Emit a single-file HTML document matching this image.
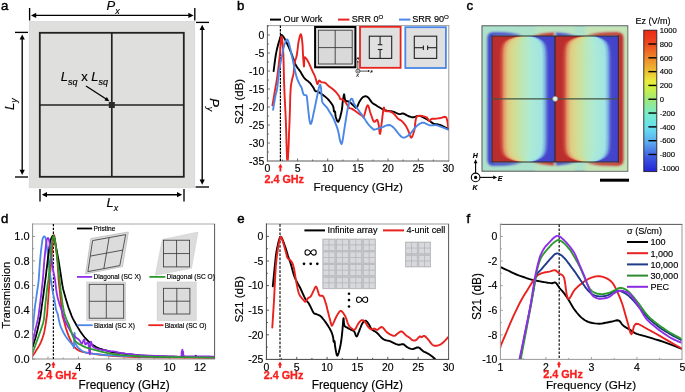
<!DOCTYPE html>
<html><head><meta charset="utf-8"><style>
html,body{margin:0;padding:0;background:#fff;}
svg{display:block;font-family:"Liberation Sans", sans-serif;opacity:0.999;}
</style></head><body>
<svg width="685" height="392" viewBox="0 0 685 392">
<rect width="685" height="392" fill="#fff"/>
<text x="1.0" y="9.8" font-size="13.2" text-anchor="start" font-weight="normal" font-style="normal" fill="#000" stroke="#000" stroke-width="0.45">a</text>
<rect x="29.2" y="21.6" width="165.6" height="166.2" fill="#dfdfde" stroke="#d0d0d0" stroke-width="0.6"/>
<rect x="39.8" y="32.8" width="144" height="144" fill="none" stroke="#222" stroke-width="1.8"/>
<line x1="111.8" y1="32.8" x2="111.8" y2="176.8" stroke="#222" stroke-width="1.7" />
<line x1="39.8" y1="105" x2="183.8" y2="105" stroke="#222" stroke-width="1.7" />
<rect x="108.8" y="102" width="6" height="6" fill="#2b2b2b"/>
<line x1="29.6" y1="8" x2="29.6" y2="20.5" stroke="#000" stroke-width="1.35" />
<line x1="194.8" y1="8" x2="194.8" y2="20.5" stroke="#000" stroke-width="1.35" />
<line x1="33" y1="15.4" x2="191" y2="15.4" stroke="#000" stroke-width="1.35" />
<polygon points="31.00,15.40 36.20,12.80 36.20,18.00" fill="#000"/>
<polygon points="193.60,15.40 188.40,18.00 188.40,12.80" fill="#000"/>
<line x1="196" y1="22.4" x2="209" y2="22.4" stroke="#000" stroke-width="1.35" />
<line x1="195.6" y1="187" x2="209" y2="187" stroke="#000" stroke-width="1.35" />
<line x1="202.2" y1="28" x2="202.2" y2="182" stroke="#000" stroke-width="1.35" />
<polygon points="202.20,24.80 204.80,30.00 199.60,30.00" fill="#000"/>
<polygon points="202.20,184.80 199.60,179.60 204.80,179.60" fill="#000"/>
<line x1="15" y1="32.4" x2="28" y2="32.4" stroke="#000" stroke-width="1.35" />
<line x1="15" y1="177" x2="28" y2="177" stroke="#000" stroke-width="1.35" />
<line x1="22.2" y1="38" x2="22.2" y2="171" stroke="#000" stroke-width="1.35" />
<polygon points="22.20,34.40 24.80,39.60 19.60,39.60" fill="#000"/>
<polygon points="22.20,175.00 19.60,169.80 24.80,169.80" fill="#000"/>
<line x1="40" y1="189" x2="40" y2="201.6" stroke="#000" stroke-width="1.35" />
<line x1="184" y1="189" x2="184" y2="201.6" stroke="#000" stroke-width="1.35" />
<line x1="44" y1="194.7" x2="180" y2="194.7" stroke="#000" stroke-width="1.35" />
<polygon points="41.80,194.70 47.00,192.10 47.00,197.30" fill="#000"/>
<polygon points="182.20,194.70 177.00,197.30 177.00,192.10" fill="#000"/>
<text stroke="#000" stroke-width="0.15" x="106.6" y="10" font-size="13" font-style="italic">P<tspan font-size="9" dy="3.5">x</tspan></text>
<text stroke="#000" stroke-width="0.15" x="106.6" y="207.4" font-size="13" font-style="italic">L<tspan font-size="9" dy="3.5">x</tspan></text>
<text stroke="#000" stroke-width="0.15" transform="translate(13.6,110) rotate(-90)" font-size="13" font-style="italic">L<tspan font-size="9" dy="3.5">y</tspan></text>
<text stroke="#000" stroke-width="0.15" transform="translate(210.4,98.2) rotate(90)" font-size="13" font-style="italic">P<tspan font-size="9" dy="3.5">y</tspan></text>
<text stroke="#000" stroke-width="0.15" x="60.8" y="81" font-size="13" font-style="italic">L<tspan font-size="9" dy="3.5">sq</tspan><tspan font-style="normal" font-size="13" dy="-3.5"> x </tspan>L<tspan font-size="9" dy="3.5">sq</tspan></text>
<line x1="86" y1="86" x2="106.5" y2="99.3" stroke="#000" stroke-width="1.3" />
<polygon points="109.40,101.20 104.43,100.59 106.82,96.90" fill="#000"/>
<text x="237.0" y="10" font-size="13.2" text-anchor="start" font-weight="normal" font-style="normal" fill="#000" stroke="#000" stroke-width="0.45">b</text>
<line x1="266.9" y1="25.6" x2="449.3" y2="25.6" stroke="#a0a0a0" stroke-width="1" />
<line x1="448.8" y1="25.6" x2="448.8" y2="161" stroke="#999" stroke-width="1" />
<line x1="267.4" y1="25.1" x2="267.4" y2="161.5" stroke="#5a5a5a" stroke-width="1" />
<line x1="266.9" y1="161" x2="449.3" y2="161" stroke="#5a5a5a" stroke-width="1" />
<line x1="297.565" y1="161" x2="297.565" y2="158.5" stroke="#5a5a5a" stroke-width="0.9" />
<line x1="327.72999999999996" y1="161" x2="327.72999999999996" y2="158.5" stroke="#5a5a5a" stroke-width="0.9" />
<line x1="357.895" y1="161" x2="357.895" y2="158.5" stroke="#5a5a5a" stroke-width="0.9" />
<line x1="388.06" y1="161" x2="388.06" y2="158.5" stroke="#5a5a5a" stroke-width="0.9" />
<line x1="418.225" y1="161" x2="418.225" y2="158.5" stroke="#5a5a5a" stroke-width="0.9" />
<line x1="282.48249999999996" y1="161" x2="282.48249999999996" y2="159.5" stroke="#5a5a5a" stroke-width="0.9" />
<line x1="312.6475" y1="161" x2="312.6475" y2="159.5" stroke="#5a5a5a" stroke-width="0.9" />
<line x1="342.8125" y1="161" x2="342.8125" y2="159.5" stroke="#5a5a5a" stroke-width="0.9" />
<line x1="372.97749999999996" y1="161" x2="372.97749999999996" y2="159.5" stroke="#5a5a5a" stroke-width="0.9" />
<line x1="403.1425" y1="161" x2="403.1425" y2="159.5" stroke="#5a5a5a" stroke-width="0.9" />
<line x1="433.3075" y1="161" x2="433.3075" y2="159.5" stroke="#5a5a5a" stroke-width="0.9" />
<line x1="267.4" y1="35.0" x2="269.9" y2="35.0" stroke="#5a5a5a" stroke-width="0.9" />
<line x1="267.4" y1="53.0" x2="269.9" y2="53.0" stroke="#5a5a5a" stroke-width="0.9" />
<line x1="267.4" y1="71.0" x2="269.9" y2="71.0" stroke="#5a5a5a" stroke-width="0.9" />
<line x1="267.4" y1="89.0" x2="269.9" y2="89.0" stroke="#5a5a5a" stroke-width="0.9" />
<line x1="267.4" y1="107.0" x2="269.9" y2="107.0" stroke="#5a5a5a" stroke-width="0.9" />
<line x1="267.4" y1="125.0" x2="269.9" y2="125.0" stroke="#5a5a5a" stroke-width="0.9" />
<line x1="267.4" y1="143.0" x2="269.9" y2="143.0" stroke="#5a5a5a" stroke-width="0.9" />
<line x1="267.4" y1="44.0" x2="268.9" y2="44.0" stroke="#5a5a5a" stroke-width="0.9" />
<line x1="267.4" y1="62.0" x2="268.9" y2="62.0" stroke="#5a5a5a" stroke-width="0.9" />
<line x1="267.4" y1="80.0" x2="268.9" y2="80.0" stroke="#5a5a5a" stroke-width="0.9" />
<line x1="267.4" y1="98.0" x2="268.9" y2="98.0" stroke="#5a5a5a" stroke-width="0.9" />
<line x1="267.4" y1="116.0" x2="268.9" y2="116.0" stroke="#5a5a5a" stroke-width="0.9" />
<line x1="267.4" y1="134.0" x2="268.9" y2="134.0" stroke="#5a5a5a" stroke-width="0.9" />
<line x1="267.4" y1="152.0" x2="268.9" y2="152.0" stroke="#5a5a5a" stroke-width="0.9" />
<line x1="267.4" y1="26.0" x2="268.9" y2="26.0" stroke="#5a5a5a" stroke-width="0.9" />
<text x="267.4" y="172" font-size="10.5" text-anchor="middle" font-weight="normal" font-style="normal" fill="#000" stroke="#000" stroke-width="0.15" >0</text>
<text x="297.565" y="172" font-size="10.5" text-anchor="middle" font-weight="normal" font-style="normal" fill="#000" stroke="#000" stroke-width="0.15" >5</text>
<text x="327.72999999999996" y="172" font-size="10.5" text-anchor="middle" font-weight="normal" font-style="normal" fill="#000" stroke="#000" stroke-width="0.15" >10</text>
<text x="357.895" y="172" font-size="10.5" text-anchor="middle" font-weight="normal" font-style="normal" fill="#000" stroke="#000" stroke-width="0.15" >15</text>
<text x="388.06" y="172" font-size="10.5" text-anchor="middle" font-weight="normal" font-style="normal" fill="#000" stroke="#000" stroke-width="0.15" >20</text>
<text x="418.225" y="172" font-size="10.5" text-anchor="middle" font-weight="normal" font-style="normal" fill="#000" stroke="#000" stroke-width="0.15" >25</text>
<text x="448.39" y="172" font-size="10.5" text-anchor="middle" font-weight="normal" font-style="normal" fill="#000" stroke="#000" stroke-width="0.15" >30</text>
<text x="264.3" y="38.8" font-size="10.5" text-anchor="end" font-weight="normal" font-style="normal" fill="#000" stroke="#000" stroke-width="0.15" >0</text>
<text x="264.3" y="56.8" font-size="10.5" text-anchor="end" font-weight="normal" font-style="normal" fill="#000" stroke="#000" stroke-width="0.15" >-5</text>
<text x="264.3" y="74.8" font-size="10.5" text-anchor="end" font-weight="normal" font-style="normal" fill="#000" stroke="#000" stroke-width="0.15" >-10</text>
<text x="264.3" y="92.8" font-size="10.5" text-anchor="end" font-weight="normal" font-style="normal" fill="#000" stroke="#000" stroke-width="0.15" >-15</text>
<text x="264.3" y="110.8" font-size="10.5" text-anchor="end" font-weight="normal" font-style="normal" fill="#000" stroke="#000" stroke-width="0.15" >-20</text>
<text x="264.3" y="128.8" font-size="10.5" text-anchor="end" font-weight="normal" font-style="normal" fill="#000" stroke="#000" stroke-width="0.15" >-25</text>
<text x="264.3" y="146.8" font-size="10.5" text-anchor="end" font-weight="normal" font-style="normal" fill="#000" stroke="#000" stroke-width="0.15" >-30</text>
<text x="264.3" y="164.8" font-size="10.5" text-anchor="end" font-weight="normal" font-style="normal" fill="#000" stroke="#000" stroke-width="0.15" >-35</text>
<text x="358.2" y="190.6" font-size="11.7" text-anchor="middle" font-weight="normal" font-style="normal" fill="#000" stroke="#000" stroke-width="0.15" >Frequency (GHz)</text>
<text stroke="#000" stroke-width="0.15" transform="translate(243.2,101.5) rotate(-90)" font-size="11.5" text-anchor="middle">S21 (dB)</text>
<line x1="280.4" y1="25.6" x2="280.4" y2="161" stroke="#000" stroke-width="1.2" stroke-dasharray="2.3,1.2"/>
<line x1="280.4" y1="166.5" x2="280.4" y2="171.5" stroke="#fa1e1e" stroke-width="1.8" />
<polygon points="280.40,163.80 282.60,167.40 278.20,167.40" fill="#fa1e1e"/>
<text x="284.2" y="183.2" font-size="10.8" text-anchor="middle" font-weight="bold" font-style="normal" fill="#fa1e1e" stroke="#fa1e1e" stroke-width="0.3">2.4 GHz</text>
<line x1="270" y1="19.6" x2="281" y2="19.6" stroke="#000" stroke-width="2" />
<text x="283.6" y="22.1" font-size="9.1" text-anchor="start" font-weight="normal" font-style="normal" fill="#000" stroke="#000" stroke-width="0.15" >Our Work</text>
<line x1="338" y1="19.6" x2="349.4" y2="19.6" stroke="#e8231f" stroke-width="2" />
<text x="351.8" y="22.1" font-size="9.1" text-anchor="start" font-weight="normal" font-style="normal" fill="#000" stroke="#000" stroke-width="0.15" >SRR 0<tspan font-size="6.2" dy="-3.2">O</tspan></text>
<line x1="399" y1="19.6" x2="410.4" y2="19.6" stroke="#4a86e8" stroke-width="2" />
<text x="412.2" y="22.1" font-size="9.1" text-anchor="start" font-weight="normal" font-style="normal" fill="#000" stroke="#000" stroke-width="0.15" >SRR 90<tspan font-size="6.2" dy="-3.2">O</tspan></text>
<clipPath id="cb"><rect x="267.9" y="26" width="180.6" height="134.6"/></clipPath>
<g clip-path="url(#cb)">
<polyline points="273.6,71.1 274.0,68.0 274.6,63.5 275.2,58.8 275.8,55.0 276.3,52.4 276.7,50.4 277.1,48.7 277.5,47.0 278.0,45.1 278.5,43.3 279.0,41.6 279.5,40.0 279.9,38.5 280.4,37.1 280.8,36.0 281.2,35.2 281.6,35.0 282.0,35.1 282.4,35.5 282.8,36.0 283.2,36.5 283.7,37.1 284.2,38.0 284.8,39.0 285.5,40.4 286.3,42.0 287.2,43.8 288.0,45.5 288.8,47.2 289.5,49.0 290.3,50.8 291.0,52.5 291.7,54.2 292.3,55.8 292.9,57.5 293.5,59.0 294.0,60.5 294.5,61.9 295.0,63.3 295.5,64.5 296.1,65.6 296.8,66.7 297.4,67.6 298.0,68.5 298.5,69.1 298.9,69.6 299.3,70.2 300.0,71.1 300.9,72.6 302.0,74.5 303.2,76.5 304.4,78.2 305.7,79.5 307.1,80.6 308.5,81.6 309.7,82.7 310.8,83.9 311.7,85.2 312.6,86.4 313.3,87.5 313.9,88.5 314.3,89.5 314.7,90.4 315.2,91.0 315.8,91.3 316.4,91.4 317.1,91.4 317.9,91.7 318.9,92.2 319.9,92.9 321.1,93.6 322.3,94.5 323.6,95.4 324.9,96.4 326.3,97.6 327.7,98.9 329.1,100.5 330.6,102.4 332.0,104.3 333.0,106.0 333.5,107.6 333.7,109.1 333.8,110.5 333.9,111.4 334.2,111.7 334.5,111.5 334.8,111.3 335.1,111.6 335.2,112.5 335.3,113.8 335.4,115.3 335.7,116.7 336.2,118.3 336.8,120.2 337.6,121.6 338.3,121.8 339.1,120.3 340.0,117.7 340.8,114.5 341.5,111.6 342.0,109.0 342.3,106.3 342.5,103.7 342.8,101.4 343.1,99.1 343.5,96.8 343.8,95.1 344.1,94.3 344.3,95.0 344.5,96.8 344.8,98.9 345.3,100.4 346.1,101.0 347.2,101.3 348.3,101.5 349.4,101.9 350.5,102.7 351.5,103.7 352.6,104.7 353.5,105.5 354.3,106.3 355.1,107.2 355.8,107.7 356.5,107.6 357.3,106.6 358.0,104.9 358.8,103.0 359.6,101.4 360.4,100.2 361.2,99.0 361.9,98.1 362.7,97.3 363.5,96.8 364.2,96.5 365.0,96.3 365.7,96.3 366.3,96.4 366.9,96.6 367.6,97.0 368.3,97.6 369.2,98.7 370.2,100.1 371.2,101.6 372.1,102.7 372.8,103.4 373.5,103.8 374.1,104.1 375.0,104.6 376.1,105.3 377.4,106.2 378.8,107.0 380.1,107.8 381.3,108.5 382.5,109.2 383.7,109.8 385.2,110.3 387.0,110.7 389.0,111.0 391.0,111.2 392.9,111.6 394.6,112.2 396.3,113.0 397.8,113.7 399.2,114.1 400.3,114.1 401.2,113.8 402.1,113.5 403.1,113.5 404.3,113.9 405.6,114.6 406.9,115.4 408.2,116.0 409.5,116.5 410.8,116.9 412.1,117.2 413.3,117.3 414.5,117.1 415.6,116.7 416.7,116.2 417.7,115.9 418.6,115.9 419.5,115.9 420.3,116.1 421.2,116.4 422.2,116.8 423.2,117.4 424.3,117.9 425.3,118.5 426.2,119.0 427.1,119.4 427.9,119.9 428.9,120.5 430.0,121.2 431.1,122.1 432.3,122.9 433.5,123.6 434.7,124.0 436.0,124.2 437.3,124.3 438.6,124.6 439.9,125.0 441.2,125.5 442.4,126.0 443.7,126.6 445.1,127.3 446.6,128.0 447.9,128.7 448.8,129.2" fill="none" stroke="#000" stroke-width="1.9" stroke-linejoin="round" stroke-linecap="round" />
<polyline points="272.4,105.4 273.0,102.2 273.8,97.5 274.6,92.4 275.4,88.0 276.0,84.6 276.5,81.7 277.0,78.6 277.5,75.0 278.1,70.3 278.7,65.0 279.3,59.7 279.8,55.0 280.2,51.1 280.4,47.6 280.6,44.6 280.8,42.0 281.0,39.9 281.1,38.2 281.2,37.1 281.4,36.5 281.6,36.5 281.8,37.0 282.0,38.1 282.2,40.0 282.5,42.5 282.8,45.7 283.1,49.7 283.4,55.0 283.6,62.0 283.8,70.4 284.0,79.4 284.3,88.0 284.6,95.8 285.0,103.4 285.4,111.2 285.8,120.0 286.2,132.0 286.6,146.2 287.0,158.0 287.5,163.0 288.0,158.0 288.6,146.1 289.1,131.9 289.6,120.0 289.9,111.1 290.1,102.9 290.3,95.8 290.6,90.0 290.9,86.0 291.3,83.6 291.6,81.8 292.0,80.0 292.4,78.1 292.9,76.4 293.3,74.8 293.7,72.9 294.0,70.6 294.1,68.0 294.3,65.4 294.6,63.0 295.1,61.0 295.6,59.2 296.3,57.3 296.8,55.0 297.3,52.0 297.7,48.5 298.1,45.0 298.5,42.0 299.0,39.6 299.5,37.5 300.0,35.8 300.4,34.7 300.7,34.2 301.0,34.3 301.2,34.9 301.5,36.0 301.8,37.9 302.1,40.5 302.4,43.3 302.6,45.9 302.7,48.2 302.8,50.3 302.9,52.6 303.0,55.0 303.2,58.2 303.5,61.9 303.8,65.0 304.0,66.5 304.1,65.5 304.2,62.8 304.2,59.7 304.4,57.7 304.7,57.2 305.2,57.4 305.7,58.0 306.2,58.6 306.7,59.3 307.3,60.2 307.9,61.2 308.5,62.3 309.0,63.3 309.5,64.4 310.0,65.6 310.7,67.2 311.7,69.4 312.9,72.0 314.2,74.6 315.2,77.0 315.9,79.2 316.5,81.4 316.9,83.1 317.4,84.1 317.9,83.8 318.3,82.6 318.7,81.3 319.2,80.5 319.7,80.6 320.2,81.1 320.7,81.8 321.4,82.3 322.2,82.4 323.1,82.4 324.0,82.5 325.0,82.8 326.2,83.6 327.4,84.8 328.6,86.0 329.5,86.8 329.8,87.0 329.7,86.9 329.6,86.8 330.0,87.1 331.0,87.8 332.3,88.8 333.8,90.0 335.1,91.2 336.3,92.5 337.4,93.8 338.4,95.2 339.2,96.3 339.6,97.2 339.8,97.9 339.9,98.4 340.2,98.9 340.8,99.2 341.6,99.3 342.5,99.5 343.3,99.9 344.1,100.6 344.8,101.5 345.6,102.5 346.3,103.5 347.0,104.6 347.6,105.7 348.2,106.7 348.9,107.6 349.7,108.1 350.5,108.4 351.4,108.6 352.4,109.1 353.6,109.9 354.9,110.8 356.3,111.8 357.6,112.7 359.0,113.7 360.4,114.6 361.7,115.5 362.7,116.2 363.2,116.8 363.3,117.4 363.4,117.5 363.8,116.7 364.6,114.2 365.6,110.4 366.6,106.9 367.6,105.2 368.4,106.0 369.2,108.5 370.0,111.5 370.8,114.1 371.6,116.3 372.4,118.6 373.2,120.6 374.0,121.8 374.7,121.9 375.4,121.3 376.1,120.4 376.6,119.9 377.0,119.8 377.2,119.8 377.4,120.0 377.6,120.5 377.9,121.4 378.2,122.6 378.5,124.0 378.8,125.6 379.1,128.0 379.4,130.9 379.7,133.3 380.1,133.9 380.5,132.1 381.0,128.5 381.5,124.3 382.0,120.5 382.4,116.9 382.9,113.1 383.3,109.8 383.7,107.8 384.0,107.5 384.2,108.6 384.6,110.0 385.2,111.0 386.3,111.3 387.6,111.3 389.0,111.4 390.3,111.6 391.3,112.0 392.3,112.6 393.2,113.3 394.1,114.1 395.1,115.1 396.1,116.3 397.0,117.6 398.0,118.6 399.0,119.3 399.9,119.8 400.9,120.4 401.8,121.1 402.8,122.0 403.7,123.1 404.7,124.3 405.6,125.6 406.5,127.1 407.3,128.7 408.1,130.4 408.8,132.0 409.5,133.8 410.1,135.8 410.7,137.3 411.4,137.7 412.2,136.6 413.0,134.5 413.9,131.8 414.5,129.4 414.9,127.1 415.1,124.7 415.3,122.4 415.6,120.5 415.9,119.1 416.2,117.9 416.5,117.1 417.1,116.4 417.9,116.0 419.0,115.8 420.1,115.8 421.2,115.9 422.3,116.0 423.4,116.3 424.4,116.6 425.3,116.9 425.9,117.1 426.4,117.3 426.8,117.6 427.3,118.0 427.8,118.7 428.3,119.7 428.9,120.6 429.4,121.0 429.9,120.8 430.3,120.2 430.8,119.5 431.4,119.0 432.3,118.8 433.3,118.8 434.4,118.8 435.5,118.7 436.7,118.6 438.0,118.4 439.3,118.2 440.6,118.0 442.0,117.6 443.6,117.0 445.0,116.8 446.2,117.4 447.0,119.5 447.6,122.5 448.0,125.6 448.3,127.7" fill="none" stroke="#e8221f" stroke-width="1.9" stroke-linejoin="round" stroke-linecap="round" />
<polyline points="273.1,109.9 273.4,107.7 273.9,104.6 274.5,101.1 275.0,98.0 275.5,95.5 276.1,93.3 276.7,90.9 277.2,88.0 277.7,84.3 278.1,80.0 278.6,75.7 279.0,72.0 279.4,69.0 279.9,66.4 280.3,64.1 280.7,62.0 281.1,60.1 281.4,58.4 281.7,56.8 282.1,55.0 282.5,52.8 283.0,50.5 283.5,48.1 284.0,46.0 284.6,44.0 285.4,42.1 286.1,40.5 286.7,39.6 287.2,39.5 287.7,40.0 288.1,40.9 288.5,42.0 288.9,43.1 289.2,44.4 289.6,46.0 290.1,48.0 290.7,50.5 291.3,53.4 292.0,56.5 292.8,60.0 293.6,64.0 294.5,68.4 295.5,72.7 296.4,76.4 297.3,79.2 298.3,81.5 299.2,83.4 300.0,85.0 300.6,86.1 301.0,86.6 301.3,87.1 301.7,88.0 302.1,89.5 302.6,91.4 303.1,93.2 303.6,94.5 304.3,95.1 305.0,95.1 305.7,95.1 306.2,95.4 306.5,95.6 306.6,95.6 306.8,96.5 307.1,98.9 307.7,104.5 308.5,112.3 309.4,119.7 310.3,123.9 311.1,123.8 312.0,120.9 312.9,116.6 313.8,112.3 314.8,107.7 315.9,102.3 317.0,97.0 317.9,92.7 318.5,89.7 319.0,87.4 319.4,85.9 319.8,85.0 320.2,84.8 320.5,85.3 320.7,86.4 321.0,88.0 321.2,90.5 321.4,93.9 321.7,97.2 321.9,99.8 322.1,101.3 322.4,102.1 322.7,102.7 323.2,103.4 323.9,104.3 324.9,105.3 325.8,106.3 326.8,107.4 327.7,108.7 328.6,110.2 329.5,111.7 330.4,113.2 331.3,114.6 332.1,115.9 332.9,117.4 333.8,119.2 334.7,121.3 335.7,123.8 336.7,126.4 337.7,129.4 338.7,133.5 339.6,138.5 340.6,142.6 341.5,144.1 342.3,142.1 343.1,137.6 343.9,132.1 344.7,126.9 345.5,122.0 346.3,116.8 347.1,111.9 347.9,107.8 348.8,104.5 349.7,101.7 350.6,99.6 351.4,98.6 352.2,98.9 352.9,100.4 353.5,102.3 354.2,103.9 354.8,104.9 355.3,105.6 355.9,106.5 356.8,107.8 358.2,109.7 359.8,112.0 361.6,114.4 363.2,116.7 364.6,118.8 365.8,120.7 367.1,122.6 368.3,124.3 369.7,125.9 371.1,127.3 372.4,128.5 373.4,129.4 373.9,129.8 374.1,129.8 374.3,129.7 375.0,129.4 376.2,129.1 377.8,128.6 379.6,128.1 381.4,127.5 383.3,126.8 385.3,125.9 387.2,125.2 389.0,125.0 390.5,125.3 391.7,126.0 392.9,127.0 394.1,128.2 395.4,129.6 396.7,131.3 398.0,133.1 399.2,134.5 400.3,135.7 401.4,136.7 402.5,137.4 403.7,137.7 405.0,137.4 406.5,136.7 407.9,135.7 409.4,134.5 410.9,133.0 412.4,131.1 413.8,129.3 415.1,127.7 416.2,126.5 417.2,125.6 418.2,124.8 419.2,124.1 420.2,123.5 421.3,123.0 422.3,122.7 423.3,122.6 424.2,122.8 425.1,123.2 425.9,123.7 426.8,124.1 427.7,124.5 428.5,124.9 429.4,125.2 430.4,125.4 431.6,125.4 432.9,125.2 434.2,125.1 435.5,125.1 436.8,125.3 438.1,125.7 439.3,126.1 440.6,126.6 441.9,127.1 443.3,127.7 444.6,128.2 445.7,128.7 446.7,129.1 447.6,129.3 448.3,129.5 448.8,129.7" fill="none" stroke="#4a87e6" stroke-width="1.9" stroke-linejoin="round" stroke-linecap="round" />
</g>
<rect x="315.1" y="27" width="40.3" height="40.3" fill="#e2e2e2" stroke="#000" stroke-width="2"/>
<rect x="318.4" y="30.2" width="33.8" height="33.8" fill="#d9d9d9" stroke="#3a3a3a" stroke-width="0.9"/>
<line x1="335.2" y1="30.2" x2="335.2" y2="64" stroke="#3a3a3a" stroke-width="0.9" />
<line x1="318.4" y1="47.6" x2="352.2" y2="47.6" stroke="#3a3a3a" stroke-width="0.9" />
<rect x="360" y="26.8" width="40.6" height="41" fill="#e0e0e0" stroke="#e8221f" stroke-width="1.8"/>
<rect x="369.3" y="36.2" width="22.4" height="22.2" fill="none" stroke="#222" stroke-width="1.1"/>
<line x1="380.1" y1="36.2" x2="380.1" y2="44.7" stroke="#222" stroke-width="1.1" />
<line x1="377.8" y1="44.7" x2="382.4" y2="44.7" stroke="#222" stroke-width="1.1" />
<line x1="380.1" y1="49.5" x2="380.1" y2="58.4" stroke="#222" stroke-width="1.1" />
<line x1="377.8" y1="49.5" x2="382.4" y2="49.5" stroke="#222" stroke-width="1.1" />
<rect x="405.3" y="27.2" width="40.6" height="40.8" fill="#e0e0e0" stroke="#4a87e6" stroke-width="1.8"/>
<rect x="414.3" y="36.2" width="22.4" height="22.2" fill="none" stroke="#222" stroke-width="1.1"/>
<line x1="414.3" y1="47.7" x2="423.4" y2="47.7" stroke="#222" stroke-width="1.1" />
<line x1="423.4" y1="45.4" x2="423.4" y2="50" stroke="#222" stroke-width="1.1" />
<line x1="427.6" y1="47.7" x2="436.7" y2="47.7" stroke="#222" stroke-width="1.1" />
<line x1="427.6" y1="45.4" x2="427.6" y2="50" stroke="#222" stroke-width="1.1" />
<circle cx="357.9" cy="71.1" r="2" fill="#fff" stroke="#000" stroke-width="0.7"/>
<circle cx="357.9" cy="71.1" r="0.7" fill="#000"/>
<line x1="359.9" y1="71.1" x2="368.5" y2="71.1" stroke="#000" stroke-width="0.7" />
<polygon points="370.00,71.10 368.00,72.10 368.00,70.10" fill="#000"/>
<line x1="357.9" y1="69.1" x2="357.9" y2="62" stroke="#000" stroke-width="0.7" />
<polygon points="357.90,60.30 358.90,62.30 356.90,62.30" fill="#000"/>
<text x="370.6" y="73" font-size="3.5" text-anchor="start" font-weight="normal" font-style="italic" fill="#000" stroke="#000" stroke-width="0.15" >E</text>
<text x="356.5" y="59.5" font-size="3.5" text-anchor="start" font-weight="normal" font-style="italic" fill="#000" stroke="#000" stroke-width="0.15" >H</text>
<text x="356.6" y="76.6" font-size="3.5" text-anchor="start" font-weight="normal" font-style="italic" fill="#000" stroke="#000" stroke-width="0.15" >K</text>
<text x="466.6" y="10" font-size="13.2" text-anchor="start" font-weight="normal" font-style="normal" fill="#000" stroke="#000" stroke-width="0.45">c</text>
<defs>
<linearGradient id="half" x1="0" x2="1" y1="0" y2="0"><stop offset="0" stop-color="#b92d2d"/><stop offset="0.11" stop-color="#bc2e2e"/><stop offset="0.15" stop-color="#d04c40"/><stop offset="0.19" stop-color="#e09a66"/><stop offset="0.25" stop-color="#e0cc84"/><stop offset="0.34" stop-color="#d4dc90"/><stop offset="0.47" stop-color="#bee6b4"/><stop offset="0.6" stop-color="#afebd2"/><stop offset="0.79" stop-color="#a0e4e4"/><stop offset="0.84" stop-color="#7aaee0"/><stop offset="0.87" stop-color="#5a6cd6"/><stop offset="0.9" stop-color="#4646cd"/><stop offset="1" stop-color="#4242c8"/></linearGradient>
<linearGradient id="cbar" x1="0" x2="0" y1="0" y2="1">
<stop offset="0" stop-color="#ec2818"/><stop offset="0.1" stop-color="#ee4a1e"/>
<stop offset="0.2" stop-color="#ee8a2a"/><stop offset="0.3" stop-color="#ecc434"/>
<stop offset="0.36" stop-color="#eaea3c"/><stop offset="0.41" stop-color="#cef044"/>
<stop offset="0.5" stop-color="#9ae882"/><stop offset="0.6" stop-color="#74ecd0"/>
<stop offset="0.7" stop-color="#66dcf0"/><stop offset="0.8" stop-color="#5aa6ee"/>
<stop offset="0.9" stop-color="#3c58e0"/><stop offset="1" stop-color="#2222d8"/>
</linearGradient>
<filter id="bl2" x="-20%" y="-20%" width="140%" height="140%"><feGaussianBlur stdDeviation="1.6"/></filter>
<filter id="bl1" x="-20%" y="-20%" width="140%" height="140%"><feGaussianBlur stdDeviation="0.8"/></filter>
<clipPath id="cl"><rect x="492" y="36" width="63" height="126"/></clipPath>
<clipPath id="cr"><rect x="555" y="36" width="63.4" height="126"/></clipPath>
<clipPath id="co"><rect x="482.5" y="26.3" width="145" height="144.6"/></clipPath>
</defs>
<rect x="482" y="25.8" width="145.8" height="145.4" fill="#ace2cc" stroke="#555" stroke-width="1"/>
<g clip-path="url(#co)">
<rect x="585" y="26" width="43" height="146" fill="#d0e4ac" filter="url(#bl2)" opacity="0.7"/>
<rect x="535" y="26" width="40" height="146" fill="#c8e4b4" filter="url(#bl2)" opacity="0.5"/>
<g filter="url(#bl1)">
<path d="M492.5,33 L489.5,33.4 Q487.4,34.5 487.4,38 L487.4,160 Q487.4,163.5 489.5,164.6 L492.5,165 Z" fill="#4444cc"/>
<path d="M488,36 Q488.5,32.6 493,32.2 L505,32.6 Q515,33.4 522,35.8 L488,35.8 Z" fill="#4646cc"/>
<path d="M488,162 Q488.5,165.4 493,165.8 L505,165.4 Q515,164.6 522,162.2 L488,162.2 Z" fill="#4646cc"/>
<path d="M618,33 L620.6,33.4 Q623.4,34.5 623.4,38 L623.4,160 Q623.4,163.5 620.6,164.6 L618,165 Z" fill="#c02e2e"/>
<path d="M623,36 Q622.5,32.6 617,32.2 L605,32.4 Q594,33.2 586,35.8 L623,35.8 Z" fill="#c43030"/>
<path d="M623,162 Q622.5,165.4 617,165.8 L605,165.6 Q594,164.8 586,162.2 L623,162.2 Z" fill="#c43030"/>
<path d="M532,36.2 Q542,33.2 554,32.6 L554,36.2 Z M532,161.8 Q542,164.8 554,165.4 L554,161.8 Z" fill="#cc2a2a"/>
<path d="M556,32.6 Q567,33.2 577,36.2 L556,36.2 Z M556,165.4 Q567,164.8 577,161.8 L556,161.8 Z" fill="#4444cc"/>
</g>
</g>
<defs><linearGradient id="hr0" x1="0" x2="1" y1="0" y2="0"><stop offset="0.000" stop-color="#b92d2d"/><stop offset="0.370" stop-color="#bc2e2e"/><stop offset="0.398" stop-color="#d04c40"/><stop offset="0.425" stop-color="#e09a66"/><stop offset="0.467" stop-color="#e0cc84"/><stop offset="0.489" stop-color="#d4dc90"/><stop offset="0.522" stop-color="#bee6b4"/><stop offset="0.555" stop-color="#afebd2"/><stop offset="0.605" stop-color="#a0e4e4"/><stop offset="0.639" stop-color="#7aaee0"/><stop offset="0.659" stop-color="#5a6cd6"/><stop offset="0.679" stop-color="#4646cd"/><stop offset="1.000" stop-color="#4242c8"/></linearGradient><linearGradient id="hr1" x1="0" x2="1" y1="0" y2="0"><stop offset="0.000" stop-color="#b92d2d"/><stop offset="0.305" stop-color="#bc2e2e"/><stop offset="0.336" stop-color="#d04c40"/><stop offset="0.367" stop-color="#e09a66"/><stop offset="0.413" stop-color="#e0cc84"/><stop offset="0.451" stop-color="#d4dc90"/><stop offset="0.507" stop-color="#bee6b4"/><stop offset="0.563" stop-color="#afebd2"/><stop offset="0.646" stop-color="#a0e4e4"/><stop offset="0.683" stop-color="#7aaee0"/><stop offset="0.706" stop-color="#5a6cd6"/><stop offset="0.728" stop-color="#4646cd"/><stop offset="1.000" stop-color="#4242c8"/></linearGradient><linearGradient id="hr2" x1="0" x2="1" y1="0" y2="0"><stop offset="0.000" stop-color="#b92d2d"/><stop offset="0.257" stop-color="#bc2e2e"/><stop offset="0.290" stop-color="#d04c40"/><stop offset="0.323" stop-color="#e09a66"/><stop offset="0.372" stop-color="#e0cc84"/><stop offset="0.423" stop-color="#d4dc90"/><stop offset="0.496" stop-color="#bee6b4"/><stop offset="0.570" stop-color="#afebd2"/><stop offset="0.678" stop-color="#a0e4e4"/><stop offset="0.718" stop-color="#7aaee0"/><stop offset="0.742" stop-color="#5a6cd6"/><stop offset="0.766" stop-color="#4646cd"/><stop offset="1.000" stop-color="#4242c8"/></linearGradient><linearGradient id="hr3" x1="0" x2="1" y1="0" y2="0"><stop offset="0.000" stop-color="#b92d2d"/><stop offset="0.220" stop-color="#bc2e2e"/><stop offset="0.255" stop-color="#d04c40"/><stop offset="0.290" stop-color="#e09a66"/><stop offset="0.342" stop-color="#e0cc84"/><stop offset="0.402" stop-color="#d4dc90"/><stop offset="0.489" stop-color="#bee6b4"/><stop offset="0.575" stop-color="#afebd2"/><stop offset="0.702" stop-color="#a0e4e4"/><stop offset="0.745" stop-color="#7aaee0"/><stop offset="0.770" stop-color="#5a6cd6"/><stop offset="0.796" stop-color="#4646cd"/><stop offset="1.000" stop-color="#4242c8"/></linearGradient><linearGradient id="hr4" x1="0" x2="1" y1="0" y2="0"><stop offset="0.000" stop-color="#b92d2d"/><stop offset="0.193" stop-color="#bc2e2e"/><stop offset="0.229" stop-color="#d04c40"/><stop offset="0.265" stop-color="#e09a66"/><stop offset="0.319" stop-color="#e0cc84"/><stop offset="0.386" stop-color="#d4dc90"/><stop offset="0.483" stop-color="#bee6b4"/><stop offset="0.580" stop-color="#afebd2"/><stop offset="0.722" stop-color="#a0e4e4"/><stop offset="0.766" stop-color="#7aaee0"/><stop offset="0.792" stop-color="#5a6cd6"/><stop offset="0.819" stop-color="#4646cd"/><stop offset="1.000" stop-color="#4242c8"/></linearGradient><linearGradient id="hr5" x1="0" x2="1" y1="0" y2="0"><stop offset="0.000" stop-color="#b92d2d"/><stop offset="0.172" stop-color="#bc2e2e"/><stop offset="0.209" stop-color="#d04c40"/><stop offset="0.246" stop-color="#e09a66"/><stop offset="0.302" stop-color="#e0cc84"/><stop offset="0.374" stop-color="#d4dc90"/><stop offset="0.479" stop-color="#bee6b4"/><stop offset="0.583" stop-color="#afebd2"/><stop offset="0.737" stop-color="#a0e4e4"/><stop offset="0.782" stop-color="#7aaee0"/><stop offset="0.810" stop-color="#5a6cd6"/><stop offset="0.837" stop-color="#4646cd"/><stop offset="1.000" stop-color="#4242c8"/></linearGradient><linearGradient id="hr6" x1="0" x2="1" y1="0" y2="0"><stop offset="0.000" stop-color="#b92d2d"/><stop offset="0.157" stop-color="#bc2e2e"/><stop offset="0.195" stop-color="#d04c40"/><stop offset="0.232" stop-color="#e09a66"/><stop offset="0.289" stop-color="#e0cc84"/><stop offset="0.365" stop-color="#d4dc90"/><stop offset="0.476" stop-color="#bee6b4"/><stop offset="0.586" stop-color="#afebd2"/><stop offset="0.749" stop-color="#a0e4e4"/><stop offset="0.795" stop-color="#7aaee0"/><stop offset="0.823" stop-color="#5a6cd6"/><stop offset="0.851" stop-color="#4646cd"/><stop offset="1.000" stop-color="#4242c8"/></linearGradient><linearGradient id="hr7" x1="0" x2="1" y1="0" y2="0"><stop offset="0.000" stop-color="#b92d2d"/><stop offset="0.145" stop-color="#bc2e2e"/><stop offset="0.184" stop-color="#d04c40"/><stop offset="0.222" stop-color="#e09a66"/><stop offset="0.279" stop-color="#e0cc84"/><stop offset="0.359" stop-color="#d4dc90"/><stop offset="0.474" stop-color="#bee6b4"/><stop offset="0.589" stop-color="#afebd2"/><stop offset="0.758" stop-color="#a0e4e4"/><stop offset="0.805" stop-color="#7aaee0"/><stop offset="0.833" stop-color="#5a6cd6"/><stop offset="0.862" stop-color="#4646cd"/><stop offset="1.000" stop-color="#4242c8"/></linearGradient><linearGradient id="hr8" x1="0" x2="1" y1="0" y2="0"><stop offset="0.000" stop-color="#b92d2d"/><stop offset="0.136" stop-color="#bc2e2e"/><stop offset="0.175" stop-color="#d04c40"/><stop offset="0.214" stop-color="#e09a66"/><stop offset="0.272" stop-color="#e0cc84"/><stop offset="0.354" stop-color="#d4dc90"/><stop offset="0.472" stop-color="#bee6b4"/><stop offset="0.591" stop-color="#afebd2"/><stop offset="0.765" stop-color="#a0e4e4"/><stop offset="0.813" stop-color="#7aaee0"/><stop offset="0.841" stop-color="#5a6cd6"/><stop offset="0.870" stop-color="#4646cd"/><stop offset="1.000" stop-color="#4242c8"/></linearGradient><linearGradient id="hr9" x1="0" x2="1" y1="0" y2="0"><stop offset="0.000" stop-color="#b92d2d"/><stop offset="0.130" stop-color="#bc2e2e"/><stop offset="0.169" stop-color="#d04c40"/><stop offset="0.208" stop-color="#e09a66"/><stop offset="0.267" stop-color="#e0cc84"/><stop offset="0.350" stop-color="#d4dc90"/><stop offset="0.471" stop-color="#bee6b4"/><stop offset="0.593" stop-color="#afebd2"/><stop offset="0.770" stop-color="#a0e4e4"/><stop offset="0.819" stop-color="#7aaee0"/><stop offset="0.848" stop-color="#5a6cd6"/><stop offset="0.877" stop-color="#4646cd"/><stop offset="1.000" stop-color="#4242c8"/></linearGradient><linearGradient id="hr10" x1="0" x2="1" y1="0" y2="0"><stop offset="0.000" stop-color="#b92d2d"/><stop offset="0.125" stop-color="#bc2e2e"/><stop offset="0.164" stop-color="#d04c40"/><stop offset="0.204" stop-color="#e09a66"/><stop offset="0.262" stop-color="#e0cc84"/><stop offset="0.348" stop-color="#d4dc90"/><stop offset="0.471" stop-color="#bee6b4"/><stop offset="0.594" stop-color="#afebd2"/><stop offset="0.775" stop-color="#a0e4e4"/><stop offset="0.823" stop-color="#7aaee0"/><stop offset="0.853" stop-color="#5a6cd6"/><stop offset="0.882" stop-color="#4646cd"/><stop offset="1.000" stop-color="#4242c8"/></linearGradient><linearGradient id="hr11" x1="0" x2="1" y1="0" y2="0"><stop offset="0.000" stop-color="#b92d2d"/><stop offset="0.121" stop-color="#bc2e2e"/><stop offset="0.161" stop-color="#d04c40"/><stop offset="0.200" stop-color="#e09a66"/><stop offset="0.259" stop-color="#e0cc84"/><stop offset="0.346" stop-color="#d4dc90"/><stop offset="0.470" stop-color="#bee6b4"/><stop offset="0.595" stop-color="#afebd2"/><stop offset="0.778" stop-color="#a0e4e4"/><stop offset="0.827" stop-color="#7aaee0"/><stop offset="0.857" stop-color="#5a6cd6"/><stop offset="0.886" stop-color="#4646cd"/><stop offset="1.000" stop-color="#4242c8"/></linearGradient><linearGradient id="hr12" x1="0" x2="1" y1="0" y2="0"><stop offset="0.000" stop-color="#b92d2d"/><stop offset="0.118" stop-color="#bc2e2e"/><stop offset="0.158" stop-color="#d04c40"/><stop offset="0.198" stop-color="#e09a66"/><stop offset="0.257" stop-color="#e0cc84"/><stop offset="0.344" stop-color="#d4dc90"/><stop offset="0.470" stop-color="#bee6b4"/><stop offset="0.596" stop-color="#afebd2"/><stop offset="0.781" stop-color="#a0e4e4"/><stop offset="0.830" stop-color="#7aaee0"/><stop offset="0.859" stop-color="#5a6cd6"/><stop offset="0.889" stop-color="#4646cd"/><stop offset="1.000" stop-color="#4242c8"/></linearGradient><linearGradient id="hr13" x1="0" x2="1" y1="0" y2="0"><stop offset="0.000" stop-color="#b92d2d"/><stop offset="0.116" stop-color="#bc2e2e"/><stop offset="0.156" stop-color="#d04c40"/><stop offset="0.196" stop-color="#e09a66"/><stop offset="0.255" stop-color="#e0cc84"/><stop offset="0.343" stop-color="#d4dc90"/><stop offset="0.470" stop-color="#bee6b4"/><stop offset="0.597" stop-color="#afebd2"/><stop offset="0.783" stop-color="#a0e4e4"/><stop offset="0.832" stop-color="#7aaee0"/><stop offset="0.862" stop-color="#5a6cd6"/><stop offset="0.891" stop-color="#4646cd"/><stop offset="1.000" stop-color="#4242c8"/></linearGradient><linearGradient id="hr14" x1="0" x2="1" y1="0" y2="0"><stop offset="0.000" stop-color="#b92d2d"/><stop offset="0.115" stop-color="#bc2e2e"/><stop offset="0.155" stop-color="#d04c40"/><stop offset="0.194" stop-color="#e09a66"/><stop offset="0.254" stop-color="#e0cc84"/><stop offset="0.342" stop-color="#d4dc90"/><stop offset="0.470" stop-color="#bee6b4"/><stop offset="0.597" stop-color="#afebd2"/><stop offset="0.784" stop-color="#a0e4e4"/><stop offset="0.834" stop-color="#7aaee0"/><stop offset="0.864" stop-color="#5a6cd6"/><stop offset="0.893" stop-color="#4646cd"/><stop offset="1.000" stop-color="#4242c8"/></linearGradient><linearGradient id="hr15" x1="0" x2="1" y1="0" y2="0"><stop offset="0.000" stop-color="#b92d2d"/><stop offset="0.114" stop-color="#bc2e2e"/><stop offset="0.153" stop-color="#d04c40"/><stop offset="0.193" stop-color="#e09a66"/><stop offset="0.253" stop-color="#e0cc84"/><stop offset="0.342" stop-color="#d4dc90"/><stop offset="0.470" stop-color="#bee6b4"/><stop offset="0.598" stop-color="#afebd2"/><stop offset="0.786" stop-color="#a0e4e4"/><stop offset="0.835" stop-color="#7aaee0"/><stop offset="0.865" stop-color="#5a6cd6"/><stop offset="0.895" stop-color="#4646cd"/><stop offset="1.000" stop-color="#4242c8"/></linearGradient><linearGradient id="hr16" x1="0" x2="1" y1="0" y2="0"><stop offset="0.000" stop-color="#b92d2d"/><stop offset="0.113" stop-color="#bc2e2e"/><stop offset="0.153" stop-color="#d04c40"/><stop offset="0.192" stop-color="#e09a66"/><stop offset="0.252" stop-color="#e0cc84"/><stop offset="0.341" stop-color="#d4dc90"/><stop offset="0.470" stop-color="#bee6b4"/><stop offset="0.598" stop-color="#afebd2"/><stop offset="0.787" stop-color="#a0e4e4"/><stop offset="0.836" stop-color="#7aaee0"/><stop offset="0.866" stop-color="#5a6cd6"/><stop offset="0.896" stop-color="#4646cd"/><stop offset="1.000" stop-color="#4242c8"/></linearGradient><linearGradient id="hr17" x1="0" x2="1" y1="0" y2="0"><stop offset="0.000" stop-color="#b92d2d"/><stop offset="0.112" stop-color="#bc2e2e"/><stop offset="0.152" stop-color="#d04c40"/><stop offset="0.192" stop-color="#e09a66"/><stop offset="0.252" stop-color="#e0cc84"/><stop offset="0.341" stop-color="#d4dc90"/><stop offset="0.470" stop-color="#bee6b4"/><stop offset="0.598" stop-color="#afebd2"/><stop offset="0.787" stop-color="#a0e4e4"/><stop offset="0.837" stop-color="#7aaee0"/><stop offset="0.867" stop-color="#5a6cd6"/><stop offset="0.897" stop-color="#4646cd"/><stop offset="1.000" stop-color="#4242c8"/></linearGradient><linearGradient id="hr18" x1="0" x2="1" y1="0" y2="0"><stop offset="0.000" stop-color="#b92d2d"/><stop offset="0.112" stop-color="#bc2e2e"/><stop offset="0.151" stop-color="#d04c40"/><stop offset="0.191" stop-color="#e09a66"/><stop offset="0.251" stop-color="#e0cc84"/><stop offset="0.341" stop-color="#d4dc90"/><stop offset="0.470" stop-color="#bee6b4"/><stop offset="0.599" stop-color="#afebd2"/><stop offset="0.788" stop-color="#a0e4e4"/><stop offset="0.838" stop-color="#7aaee0"/><stop offset="0.868" stop-color="#5a6cd6"/><stop offset="0.898" stop-color="#4646cd"/><stop offset="1.000" stop-color="#4242c8"/></linearGradient><linearGradient id="hr19" x1="0" x2="1" y1="0" y2="0"><stop offset="0.000" stop-color="#b92d2d"/><stop offset="0.111" stop-color="#bc2e2e"/><stop offset="0.151" stop-color="#d04c40"/><stop offset="0.191" stop-color="#e09a66"/><stop offset="0.251" stop-color="#e0cc84"/><stop offset="0.340" stop-color="#d4dc90"/><stop offset="0.470" stop-color="#bee6b4"/><stop offset="0.599" stop-color="#afebd2"/><stop offset="0.788" stop-color="#a0e4e4"/><stop offset="0.838" stop-color="#7aaee0"/><stop offset="0.868" stop-color="#5a6cd6"/><stop offset="0.898" stop-color="#4646cd"/><stop offset="1.000" stop-color="#4242c8"/></linearGradient><linearGradient id="hr20" x1="0" x2="1" y1="0" y2="0"><stop offset="0.000" stop-color="#b92d2d"/><stop offset="0.111" stop-color="#bc2e2e"/><stop offset="0.151" stop-color="#d04c40"/><stop offset="0.191" stop-color="#e09a66"/><stop offset="0.251" stop-color="#e0cc84"/><stop offset="0.340" stop-color="#d4dc90"/><stop offset="0.470" stop-color="#bee6b4"/><stop offset="0.599" stop-color="#afebd2"/><stop offset="0.789" stop-color="#a0e4e4"/><stop offset="0.839" stop-color="#7aaee0"/><stop offset="0.869" stop-color="#5a6cd6"/><stop offset="0.899" stop-color="#4646cd"/><stop offset="1.000" stop-color="#4242c8"/></linearGradient><linearGradient id="hr21" x1="0" x2="1" y1="0" y2="0"><stop offset="0.000" stop-color="#b92d2d"/><stop offset="0.111" stop-color="#bc2e2e"/><stop offset="0.151" stop-color="#d04c40"/><stop offset="0.191" stop-color="#e09a66"/><stop offset="0.251" stop-color="#e0cc84"/><stop offset="0.340" stop-color="#d4dc90"/><stop offset="0.470" stop-color="#bee6b4"/><stop offset="0.599" stop-color="#afebd2"/><stop offset="0.789" stop-color="#a0e4e4"/><stop offset="0.839" stop-color="#7aaee0"/><stop offset="0.869" stop-color="#5a6cd6"/><stop offset="0.899" stop-color="#4646cd"/><stop offset="1.000" stop-color="#4242c8"/></linearGradient></defs>
<rect x="492" y="36" width="63.2" height="126" fill="url(#half)"/>
<rect x="492" y="36" width="63.2" height="1.05" fill="url(#hr0)"/>
<rect x="492" y="160.95" width="63.2" height="1.05" fill="url(#hr0)"/>
<rect x="492" y="37" width="63.2" height="1.05" fill="url(#hr1)"/>
<rect x="492" y="159.95" width="63.2" height="1.05" fill="url(#hr1)"/>
<rect x="492" y="38" width="63.2" height="1.05" fill="url(#hr2)"/>
<rect x="492" y="158.95" width="63.2" height="1.05" fill="url(#hr2)"/>
<rect x="492" y="39" width="63.2" height="1.05" fill="url(#hr3)"/>
<rect x="492" y="157.95" width="63.2" height="1.05" fill="url(#hr3)"/>
<rect x="492" y="40" width="63.2" height="1.05" fill="url(#hr4)"/>
<rect x="492" y="156.95" width="63.2" height="1.05" fill="url(#hr4)"/>
<rect x="492" y="41" width="63.2" height="1.05" fill="url(#hr5)"/>
<rect x="492" y="155.95" width="63.2" height="1.05" fill="url(#hr5)"/>
<rect x="492" y="42" width="63.2" height="1.05" fill="url(#hr6)"/>
<rect x="492" y="154.95" width="63.2" height="1.05" fill="url(#hr6)"/>
<rect x="492" y="43" width="63.2" height="1.05" fill="url(#hr7)"/>
<rect x="492" y="153.95" width="63.2" height="1.05" fill="url(#hr7)"/>
<rect x="492" y="44" width="63.2" height="1.05" fill="url(#hr8)"/>
<rect x="492" y="152.95" width="63.2" height="1.05" fill="url(#hr8)"/>
<rect x="492" y="45" width="63.2" height="1.05" fill="url(#hr9)"/>
<rect x="492" y="151.95" width="63.2" height="1.05" fill="url(#hr9)"/>
<rect x="492" y="46" width="63.2" height="1.05" fill="url(#hr10)"/>
<rect x="492" y="150.95" width="63.2" height="1.05" fill="url(#hr10)"/>
<rect x="492" y="47" width="63.2" height="1.05" fill="url(#hr11)"/>
<rect x="492" y="149.95" width="63.2" height="1.05" fill="url(#hr11)"/>
<rect x="492" y="48" width="63.2" height="1.05" fill="url(#hr12)"/>
<rect x="492" y="148.95" width="63.2" height="1.05" fill="url(#hr12)"/>
<rect x="492" y="49" width="63.2" height="1.05" fill="url(#hr13)"/>
<rect x="492" y="147.95" width="63.2" height="1.05" fill="url(#hr13)"/>
<rect x="492" y="50" width="63.2" height="1.05" fill="url(#hr14)"/>
<rect x="492" y="146.95" width="63.2" height="1.05" fill="url(#hr14)"/>
<rect x="492" y="51" width="63.2" height="1.05" fill="url(#hr15)"/>
<rect x="492" y="145.95" width="63.2" height="1.05" fill="url(#hr15)"/>
<rect x="492" y="52" width="63.2" height="1.05" fill="url(#hr16)"/>
<rect x="492" y="144.95" width="63.2" height="1.05" fill="url(#hr16)"/>
<rect x="492" y="53" width="63.2" height="1.05" fill="url(#hr17)"/>
<rect x="492" y="143.95" width="63.2" height="1.05" fill="url(#hr17)"/>
<rect x="492" y="54" width="63.2" height="1.05" fill="url(#hr18)"/>
<rect x="492" y="142.95" width="63.2" height="1.05" fill="url(#hr18)"/>
<rect x="492" y="55" width="63.2" height="1.05" fill="url(#hr19)"/>
<rect x="492" y="141.95" width="63.2" height="1.05" fill="url(#hr19)"/>
<rect x="492" y="56" width="63.2" height="1.05" fill="url(#hr20)"/>
<rect x="492" y="140.95" width="63.2" height="1.05" fill="url(#hr20)"/>
<rect x="492" y="57" width="63.2" height="1.05" fill="url(#hr21)"/>
<rect x="492" y="139.95" width="63.2" height="1.05" fill="url(#hr21)"/>
<rect x="555" y="36" width="63.2" height="126" fill="url(#half)"/>
<rect x="555" y="36" width="63.2" height="1.05" fill="url(#hr0)"/>
<rect x="555" y="160.95" width="63.2" height="1.05" fill="url(#hr0)"/>
<rect x="555" y="37" width="63.2" height="1.05" fill="url(#hr1)"/>
<rect x="555" y="159.95" width="63.2" height="1.05" fill="url(#hr1)"/>
<rect x="555" y="38" width="63.2" height="1.05" fill="url(#hr2)"/>
<rect x="555" y="158.95" width="63.2" height="1.05" fill="url(#hr2)"/>
<rect x="555" y="39" width="63.2" height="1.05" fill="url(#hr3)"/>
<rect x="555" y="157.95" width="63.2" height="1.05" fill="url(#hr3)"/>
<rect x="555" y="40" width="63.2" height="1.05" fill="url(#hr4)"/>
<rect x="555" y="156.95" width="63.2" height="1.05" fill="url(#hr4)"/>
<rect x="555" y="41" width="63.2" height="1.05" fill="url(#hr5)"/>
<rect x="555" y="155.95" width="63.2" height="1.05" fill="url(#hr5)"/>
<rect x="555" y="42" width="63.2" height="1.05" fill="url(#hr6)"/>
<rect x="555" y="154.95" width="63.2" height="1.05" fill="url(#hr6)"/>
<rect x="555" y="43" width="63.2" height="1.05" fill="url(#hr7)"/>
<rect x="555" y="153.95" width="63.2" height="1.05" fill="url(#hr7)"/>
<rect x="555" y="44" width="63.2" height="1.05" fill="url(#hr8)"/>
<rect x="555" y="152.95" width="63.2" height="1.05" fill="url(#hr8)"/>
<rect x="555" y="45" width="63.2" height="1.05" fill="url(#hr9)"/>
<rect x="555" y="151.95" width="63.2" height="1.05" fill="url(#hr9)"/>
<rect x="555" y="46" width="63.2" height="1.05" fill="url(#hr10)"/>
<rect x="555" y="150.95" width="63.2" height="1.05" fill="url(#hr10)"/>
<rect x="555" y="47" width="63.2" height="1.05" fill="url(#hr11)"/>
<rect x="555" y="149.95" width="63.2" height="1.05" fill="url(#hr11)"/>
<rect x="555" y="48" width="63.2" height="1.05" fill="url(#hr12)"/>
<rect x="555" y="148.95" width="63.2" height="1.05" fill="url(#hr12)"/>
<rect x="555" y="49" width="63.2" height="1.05" fill="url(#hr13)"/>
<rect x="555" y="147.95" width="63.2" height="1.05" fill="url(#hr13)"/>
<rect x="555" y="50" width="63.2" height="1.05" fill="url(#hr14)"/>
<rect x="555" y="146.95" width="63.2" height="1.05" fill="url(#hr14)"/>
<rect x="555" y="51" width="63.2" height="1.05" fill="url(#hr15)"/>
<rect x="555" y="145.95" width="63.2" height="1.05" fill="url(#hr15)"/>
<rect x="555" y="52" width="63.2" height="1.05" fill="url(#hr16)"/>
<rect x="555" y="144.95" width="63.2" height="1.05" fill="url(#hr16)"/>
<rect x="555" y="53" width="63.2" height="1.05" fill="url(#hr17)"/>
<rect x="555" y="143.95" width="63.2" height="1.05" fill="url(#hr17)"/>
<rect x="555" y="54" width="63.2" height="1.05" fill="url(#hr18)"/>
<rect x="555" y="142.95" width="63.2" height="1.05" fill="url(#hr18)"/>
<rect x="555" y="55" width="63.2" height="1.05" fill="url(#hr19)"/>
<rect x="555" y="141.95" width="63.2" height="1.05" fill="url(#hr19)"/>
<rect x="555" y="56" width="63.2" height="1.05" fill="url(#hr20)"/>
<rect x="555" y="140.95" width="63.2" height="1.05" fill="url(#hr20)"/>
<rect x="555" y="57" width="63.2" height="1.05" fill="url(#hr21)"/>
<rect x="555" y="139.95" width="63.2" height="1.05" fill="url(#hr21)"/>
<rect x="492" y="36" width="126.4" height="126" fill="none" stroke="#2a2a2a" stroke-width="1"/>
<line x1="555" y1="36" x2="555" y2="162" stroke="#2a2a2a" stroke-width="1.1" />
<line x1="492" y1="98.8" x2="618.4" y2="98.8" stroke="#445544" stroke-width="1.3" />
<circle cx="555.2" cy="98.8" r="2.6" fill="#e8f0e8" stroke="#6a7a6a" stroke-width="0.6"/>
<rect x="643.8" y="30.2" width="13" height="141.4" fill="url(#cbar)" stroke="#222" stroke-width="0.9"/>
<text x="659.7" y="33.0" font-size="7.7" text-anchor="start" font-weight="normal" font-style="normal" fill="#000" stroke="#000" stroke-width="0.15" >1000</text>
<line x1="648.4" y1="44.01" x2="656.4" y2="44.01" stroke="#000" stroke-width="1.4" />
<text x="659.7" y="46.809999999999995" font-size="7.7" text-anchor="start" font-weight="normal" font-style="normal" fill="#000" stroke="#000" stroke-width="0.15" >800</text>
<line x1="648.4" y1="57.82" x2="656.4" y2="57.82" stroke="#000" stroke-width="1.4" />
<text x="659.7" y="60.62" font-size="7.7" text-anchor="start" font-weight="normal" font-style="normal" fill="#000" stroke="#000" stroke-width="0.15" >600</text>
<line x1="648.4" y1="71.63" x2="656.4" y2="71.63" stroke="#000" stroke-width="1.4" />
<text x="659.7" y="74.42999999999999" font-size="7.7" text-anchor="start" font-weight="normal" font-style="normal" fill="#000" stroke="#000" stroke-width="0.15" >400</text>
<line x1="648.4" y1="85.44" x2="656.4" y2="85.44" stroke="#000" stroke-width="1.4" />
<text x="659.7" y="88.24" font-size="7.7" text-anchor="start" font-weight="normal" font-style="normal" fill="#000" stroke="#000" stroke-width="0.15" >200</text>
<line x1="648.4" y1="99.25" x2="656.4" y2="99.25" stroke="#000" stroke-width="1.4" />
<text x="659.7" y="102.05" font-size="7.7" text-anchor="start" font-weight="normal" font-style="normal" fill="#000" stroke="#000" stroke-width="0.15" >0</text>
<line x1="648.4" y1="113.06" x2="656.4" y2="113.06" stroke="#000" stroke-width="1.4" />
<text x="659.7" y="115.86" font-size="7.7" text-anchor="start" font-weight="normal" font-style="normal" fill="#000" stroke="#000" stroke-width="0.15" >-200</text>
<line x1="648.4" y1="126.87" x2="656.4" y2="126.87" stroke="#000" stroke-width="1.4" />
<text x="659.7" y="129.67000000000002" font-size="7.7" text-anchor="start" font-weight="normal" font-style="normal" fill="#000" stroke="#000" stroke-width="0.15" >-400</text>
<line x1="648.4" y1="140.68" x2="656.4" y2="140.68" stroke="#000" stroke-width="1.4" />
<text x="659.7" y="143.48000000000002" font-size="7.7" text-anchor="start" font-weight="normal" font-style="normal" fill="#000" stroke="#000" stroke-width="0.15" >-600</text>
<line x1="648.4" y1="154.49" x2="656.4" y2="154.49" stroke="#000" stroke-width="1.4" />
<text x="659.7" y="157.29000000000002" font-size="7.7" text-anchor="start" font-weight="normal" font-style="normal" fill="#000" stroke="#000" stroke-width="0.15" >-800</text>
<text x="659.7" y="171.1" font-size="7.7" text-anchor="start" font-weight="normal" font-style="normal" fill="#000" stroke="#000" stroke-width="0.15" >-1000</text>
<text x="635.6" y="24.3" font-size="9" text-anchor="start" font-weight="normal" font-style="normal" fill="#000" stroke="#000" stroke-width="0.15" >Ez (V/m)</text>
<rect x="600" y="178.7" width="29" height="3" fill="#000"/>
<circle cx="475.6" cy="177.4" r="4.3" fill="#fff" stroke="#000" stroke-width="1.1"/>
<circle cx="475.6" cy="177.4" r="1.6" fill="#000"/>
<line x1="475.6" y1="173" x2="475.6" y2="163" stroke="#000" stroke-width="1.1" />
<polygon points="475.60,159.20 477.50,163.20 473.70,163.20" fill="#000"/>
<line x1="480" y1="177.4" x2="493.5" y2="177.4" stroke="#000" stroke-width="1.1" />
<polygon points="497.20,177.40 493.20,179.30 493.20,175.50" fill="#000"/>
<text x="472.8" y="157.6" font-size="7" text-anchor="start" font-weight="bold" font-style="italic" fill="#000" stroke="#000" stroke-width="0.15" >H</text>
<text x="497.8" y="181.2" font-size="7" text-anchor="start" font-weight="bold" font-style="italic" fill="#000" stroke="#000" stroke-width="0.15" >E</text>
<text x="472.6" y="190.2" font-size="7" text-anchor="start" font-weight="bold" font-style="italic" fill="#000" stroke="#000" stroke-width="0.15" >K</text>
<text x="1.0" y="223.4" font-size="13.2" text-anchor="start" font-weight="normal" font-style="normal" fill="#000" stroke="#000" stroke-width="0.45">d</text>
<line x1="32.1" y1="224" x2="215.1" y2="224" stroke="#aaa" stroke-width="1" />
<line x1="214.6" y1="224" x2="214.6" y2="359" stroke="#555" stroke-width="1" />
<line x1="32.6" y1="223.5" x2="32.6" y2="359.5" stroke="#8c8c8c" stroke-width="1" />
<line x1="32.1" y1="359" x2="215.1" y2="359" stroke="#8c8c8c" stroke-width="1" />
<line x1="48.0" y1="359" x2="48.0" y2="356.5" stroke="#8c8c8c" stroke-width="0.9" />
<line x1="78.4" y1="359" x2="78.4" y2="356.5" stroke="#8c8c8c" stroke-width="0.9" />
<line x1="108.8" y1="359" x2="108.8" y2="356.5" stroke="#8c8c8c" stroke-width="0.9" />
<line x1="139.2" y1="359" x2="139.2" y2="356.5" stroke="#8c8c8c" stroke-width="0.9" />
<line x1="169.6" y1="359" x2="169.6" y2="356.5" stroke="#8c8c8c" stroke-width="0.9" />
<line x1="200.0" y1="359" x2="200.0" y2="356.5" stroke="#8c8c8c" stroke-width="0.9" />
<line x1="63.2" y1="359" x2="63.2" y2="357.5" stroke="#8c8c8c" stroke-width="0.9" />
<line x1="93.6" y1="359" x2="93.6" y2="357.5" stroke="#8c8c8c" stroke-width="0.9" />
<line x1="124.0" y1="359" x2="124.0" y2="357.5" stroke="#8c8c8c" stroke-width="0.9" />
<line x1="154.39999999999998" y1="359" x2="154.39999999999998" y2="357.5" stroke="#8c8c8c" stroke-width="0.9" />
<line x1="184.79999999999998" y1="359" x2="184.79999999999998" y2="357.5" stroke="#8c8c8c" stroke-width="0.9" />
<line x1="32.6" y1="359.0" x2="35.1" y2="359.0" stroke="#8c8c8c" stroke-width="0.9" />
<line x1="32.6" y1="334.48" x2="35.1" y2="334.48" stroke="#8c8c8c" stroke-width="0.9" />
<line x1="32.6" y1="309.96" x2="35.1" y2="309.96" stroke="#8c8c8c" stroke-width="0.9" />
<line x1="32.6" y1="285.44" x2="35.1" y2="285.44" stroke="#8c8c8c" stroke-width="0.9" />
<line x1="32.6" y1="260.92" x2="35.1" y2="260.92" stroke="#8c8c8c" stroke-width="0.9" />
<line x1="32.6" y1="236.4" x2="35.1" y2="236.4" stroke="#8c8c8c" stroke-width="0.9" />
<line x1="32.6" y1="346.74" x2="34.1" y2="346.74" stroke="#8c8c8c" stroke-width="0.9" />
<line x1="32.6" y1="322.22" x2="34.1" y2="322.22" stroke="#8c8c8c" stroke-width="0.9" />
<line x1="32.6" y1="297.7" x2="34.1" y2="297.7" stroke="#8c8c8c" stroke-width="0.9" />
<line x1="32.6" y1="273.18" x2="34.1" y2="273.18" stroke="#8c8c8c" stroke-width="0.9" />
<line x1="32.6" y1="248.66" x2="34.1" y2="248.66" stroke="#8c8c8c" stroke-width="0.9" />
<text x="48.0" y="371" font-size="11" text-anchor="middle" font-weight="normal" font-style="normal" fill="#000" stroke="#000" stroke-width="0.15" >2</text>
<text x="78.4" y="371" font-size="11" text-anchor="middle" font-weight="normal" font-style="normal" fill="#000" stroke="#000" stroke-width="0.15" >4</text>
<text x="108.8" y="371" font-size="11" text-anchor="middle" font-weight="normal" font-style="normal" fill="#000" stroke="#000" stroke-width="0.15" >6</text>
<text x="139.2" y="371" font-size="11" text-anchor="middle" font-weight="normal" font-style="normal" fill="#000" stroke="#000" stroke-width="0.15" >8</text>
<text x="169.6" y="371" font-size="11" text-anchor="middle" font-weight="normal" font-style="normal" fill="#000" stroke="#000" stroke-width="0.15" >10</text>
<text x="200.0" y="371" font-size="11" text-anchor="middle" font-weight="normal" font-style="normal" fill="#000" stroke="#000" stroke-width="0.15" >12</text>
<text x="29.6" y="362.8" font-size="11" text-anchor="end" font-weight="normal" font-style="normal" fill="#000" stroke="#000" stroke-width="0.15" >0.0</text>
<text x="29.6" y="338.28000000000003" font-size="11" text-anchor="end" font-weight="normal" font-style="normal" fill="#000" stroke="#000" stroke-width="0.15" >0.2</text>
<text x="29.6" y="313.76" font-size="11" text-anchor="end" font-weight="normal" font-style="normal" fill="#000" stroke="#000" stroke-width="0.15" >0.4</text>
<text x="29.6" y="289.24" font-size="11" text-anchor="end" font-weight="normal" font-style="normal" fill="#000" stroke="#000" stroke-width="0.15" >0.6</text>
<text x="29.6" y="264.72" font-size="11" text-anchor="end" font-weight="normal" font-style="normal" fill="#000" stroke="#000" stroke-width="0.15" >0.8</text>
<text x="29.6" y="240.20000000000002" font-size="11" text-anchor="end" font-weight="normal" font-style="normal" fill="#000" stroke="#000" stroke-width="0.15" >1.0</text>
<text x="124" y="389.4" font-size="11.9" text-anchor="middle" font-weight="normal" font-style="normal" fill="#000" stroke="#000" stroke-width="0.15" >Frequency (GHz)</text>
<text stroke="#000" stroke-width="0.15" transform="translate(9.8,295.2) rotate(-90)" font-size="11.4" text-anchor="middle">Transmission</text>
<line x1="53.4" y1="224" x2="53.4" y2="359" stroke="#000" stroke-width="1.2" stroke-dasharray="2.3,1.5"/>
<line x1="53.4" y1="364.5" x2="53.4" y2="368" stroke="#fa1e1e" stroke-width="1.8" />
<polygon points="53.40,361.60 55.60,365.20 51.20,365.20" fill="#fa1e1e"/>
<text x="57" y="378.6" font-size="10.8" text-anchor="middle" font-weight="bold" font-style="normal" fill="#fa1e1e" stroke="#fa1e1e" stroke-width="0.3">2.4 GHz</text>
<clipPath id="cd"><rect x="33.1" y="224.5" width="181" height="134"/></clipPath>
<g clip-path="url(#cd)">
<polyline points="32.8,355.8 33.6,354.5 34.8,352.7 36.1,350.6 37.6,348.3 38.9,346.1 40.0,344.0 40.9,342.1 41.6,340.3 42.3,338.6 42.9,336.8 43.5,334.9 44.0,333.0 44.5,330.9 44.9,328.7 45.3,326.4 45.7,324.2 46.0,322.0 46.3,320.0 46.5,318.4 46.7,317.2 46.9,316.1 47.0,314.7 47.2,312.8 47.4,310.0 47.7,306.0 48.1,301.0 48.5,295.5 48.9,289.9 49.3,284.5 49.6,280.0 49.9,276.3 50.2,273.1 50.5,270.2 50.7,267.5 51.0,264.8 51.2,262.0 51.4,259.0 51.7,256.0 51.9,253.0 52.1,250.1 52.3,247.4 52.5,245.0 52.7,242.8 53.0,240.6 53.2,238.6 53.4,237.0 53.7,235.8 53.9,235.2 54.1,235.2 54.3,235.7 54.5,236.7 54.8,238.1 55.0,239.9 55.3,242.0 55.6,244.6 56.0,247.8 56.4,251.3 56.8,255.0 57.2,258.6 57.5,262.0 57.7,265.2 57.9,268.4 58.1,271.6 58.3,274.7 58.4,277.5 58.6,280.0 58.8,282.0 58.9,283.4 59.1,284.7 59.2,286.0 59.4,287.7 59.7,290.0 60.0,293.3 60.4,297.4 60.9,301.8 61.3,306.2 61.7,310.1 62.1,313.2 62.4,315.2 62.6,316.5 62.8,317.2 63.0,317.9 63.3,318.7 63.7,320.0 64.2,321.8 64.7,323.8 65.3,326.0 65.9,328.3 66.7,330.6 67.5,332.9 68.4,335.3 69.5,337.9 70.6,340.5 71.8,343.0 73.2,345.2 74.6,347.1 76.0,348.5 77.2,349.6 78.6,350.5 80.3,351.2 82.5,351.8 85.4,352.5 89.2,353.2 93.7,353.9 98.7,354.5 104.0,355.1 109.5,355.6 115.0,356.0 120.2,356.4 125.2,356.6 130.3,356.9 136.0,357.1 142.4,357.2 150.0,357.4 159.8,357.6 171.6,357.7 184.3,357.9 196.5,358.0 207.0,358.1 214.3,358.2" fill="none" stroke="#e8221f" stroke-width="1.8" stroke-linejoin="round" stroke-linecap="round" />
<polyline points="32.8,330.0 33.0,327.8 33.3,324.6 33.6,320.9 33.9,317.0 34.3,313.3 34.6,310.0 34.9,307.2 35.2,304.6 35.6,302.2 35.9,299.8 36.3,297.4 36.6,295.0 37.0,292.5 37.3,290.1 37.7,287.7 38.1,285.2 38.4,282.7 38.7,280.0 38.9,277.2 39.1,274.2 39.3,271.1 39.5,268.0 39.7,265.0 39.9,262.0 40.2,259.0 40.5,256.0 40.8,253.0 41.1,250.1 41.4,247.6 41.7,245.4 41.9,243.7 42.1,242.3 42.2,241.2 42.4,240.3 42.5,239.5 42.7,238.8 42.9,238.1 43.1,237.6 43.3,237.1 43.6,236.8 43.8,236.5 44.0,236.4 44.2,236.3 44.4,236.4 44.7,236.5 44.9,236.8 45.1,237.1 45.3,237.5 45.5,238.0 45.7,238.6 45.8,239.3 46.0,240.1 46.1,241.0 46.3,242.0 46.5,243.2 46.6,244.4 46.8,245.8 46.9,247.3 47.1,248.9 47.3,250.5 47.5,252.2 47.7,253.9 47.9,255.7 48.1,257.6 48.3,259.7 48.6,262.0 48.9,264.7 49.3,267.7 49.7,270.9 50.1,274.1 50.5,277.2 50.9,280.0 51.3,282.5 51.6,284.8 52.0,286.9 52.3,289.0 52.6,291.0 53.0,293.0 53.4,295.0 53.8,297.0 54.2,299.0 54.6,300.8 54.9,302.5 55.2,304.0 55.4,305.3 55.5,306.3 55.6,307.2 55.7,308.0 55.8,308.8 56.0,309.6 56.2,310.3 56.5,310.9 56.7,311.4 57.0,312.0 57.3,312.9 57.7,314.0 58.1,315.5 58.4,317.4 58.8,319.5 59.3,321.6 59.8,323.7 60.4,325.7 61.1,327.6 61.9,329.4 62.8,331.2 63.7,333.0 64.7,334.7 65.7,336.4 66.9,338.1 68.2,339.8 69.6,341.5 70.9,343.0 72.0,344.3 72.9,345.4 73.4,346.3 73.7,347.1 73.8,347.7 73.7,348.0 73.7,347.8 73.8,347.1 73.9,345.4 74.1,342.6 74.2,339.4 74.3,336.4 74.5,334.0 74.6,332.9 74.7,333.3 74.7,334.8 74.7,336.9 74.8,339.4 75.0,341.7 75.5,343.6 76.2,345.0 77.1,346.4 78.1,347.6 79.3,348.8 80.5,349.8 81.8,350.7 83.0,351.4 84.0,351.9 85.1,352.4 86.5,352.7 88.3,353.0 90.7,353.4 93.7,353.8 97.3,354.2 101.2,354.6 105.5,355.0 110.2,355.3 115.0,355.6 119.9,355.8 124.8,356.0 130.0,356.2 135.8,356.3 142.3,356.5 150.0,356.6 159.8,356.8 171.6,356.9 184.3,357.1 196.5,357.2 207.0,357.3 214.3,357.4" fill="none" stroke="#4a87e6" stroke-width="1.8" stroke-linejoin="round" stroke-linecap="round" />
<polyline points="32.8,346.5 33.2,345.2 33.8,343.3 34.4,341.1 35.2,338.7 35.9,336.3 36.5,334.0 37.1,331.7 37.7,329.3 38.2,326.8 38.8,324.4 39.3,322.1 39.7,320.0 40.0,318.3 40.3,317.1 40.5,316.0 40.6,314.7 40.9,312.8 41.3,310.0 41.8,306.0 42.5,301.0 43.3,295.5 44.0,289.9 44.7,284.5 45.3,280.0 45.8,276.3 46.2,273.0 46.5,270.0 46.9,267.3 47.2,264.6 47.5,262.0 47.8,259.4 48.1,256.8 48.5,254.4 48.8,252.1 49.0,249.9 49.3,248.0 49.5,246.3 49.7,244.9 49.9,243.6 50.1,242.4 50.3,241.3 50.6,240.3 50.9,239.3 51.3,238.3 51.8,237.4 52.2,236.6 52.6,236.0 52.9,235.7 53.2,235.6 53.4,235.8 53.6,236.2 53.8,236.7 54.0,237.3 54.2,238.0 54.4,238.7 54.6,239.4 54.7,240.2 54.9,241.3 55.2,242.6 55.5,244.4 55.9,246.7 56.5,249.4 57.1,252.5 57.7,255.7 58.3,258.9 58.8,262.0 59.3,265.1 59.8,268.3 60.3,271.5 60.8,274.6 61.2,277.5 61.6,280.0 61.9,282.1 62.2,283.8 62.4,285.2 62.7,286.6 63.0,288.2 63.4,290.0 64.0,292.2 64.7,294.7 65.4,297.3 66.2,299.9 66.9,302.3 67.5,304.3 68.0,305.9 68.4,307.2 68.8,308.4 69.2,309.4 69.6,310.4 70.0,311.5 70.4,312.6 70.8,313.7 71.2,314.7 71.6,315.8 72.2,317.1 72.9,318.6 73.8,320.4 75.0,322.5 76.2,324.7 77.5,326.9 78.8,329.1 80.0,331.0 81.2,332.7 82.3,334.3 83.4,335.8 84.6,337.3 85.8,338.6 87.1,340.0 88.5,341.3 89.9,342.6 91.4,343.9 92.9,345.1 94.5,346.1 96.1,347.1 97.8,347.9 99.6,348.6 101.5,349.2 103.4,349.8 105.1,350.2 106.8,350.7 108.1,351.1 109.1,351.4 110.0,351.6 111.1,351.9 112.7,352.2 115.0,352.5 118.1,352.9 121.9,353.4 126.1,354.0 130.7,354.5 135.3,355.0 140.0,355.4 144.8,355.7 149.8,356.0 155.0,356.2 160.2,356.3 165.3,356.5 170.0,356.6 174.7,356.7 179.4,356.9 184.1,356.9 188.3,357.0 191.8,357.0 194.5,357.0 196.0,356.9 196.6,356.6 196.5,356.4 196.1,356.1 195.7,355.9 195.6,355.8 195.6,355.9 195.4,356.1 195.2,356.3 195.2,356.6 195.7,356.8 196.8,357.0 199.0,357.1 202.1,357.2 205.6,357.3 209.2,357.3 212.2,357.4 214.3,357.4" fill="none" stroke="#000" stroke-width="1.8" stroke-linejoin="round" stroke-linecap="round" />
<polyline points="32.8,341.8 33.1,340.5 33.4,338.7 33.8,336.5 34.3,334.2 34.8,332.0 35.2,330.0 35.6,328.2 36.1,326.5 36.5,324.9 36.9,323.3 37.3,321.6 37.7,320.0 38.0,318.6 38.2,317.4 38.4,316.2 38.7,314.8 38.9,312.8 39.3,310.0 39.8,306.0 40.4,301.0 41.1,295.4 41.7,289.8 42.3,284.5 42.8,280.0 43.1,276.5 43.4,273.5 43.5,270.9 43.7,268.5 43.9,265.9 44.1,263.0 44.4,259.6 44.8,255.8 45.2,251.8 45.6,248.1 46.0,244.8 46.3,242.3 46.6,240.6 46.9,239.4 47.1,238.7 47.3,238.3 47.6,238.2 47.8,238.1 48.0,238.1 48.3,238.2 48.5,238.6 48.8,239.2 49.0,240.1 49.3,241.3 49.6,243.0 49.8,245.1 50.1,247.5 50.4,250.1 50.7,252.6 51.0,255.0 51.3,257.2 51.6,259.4 51.9,261.6 52.2,263.8 52.5,265.9 52.8,268.0 53.1,270.0 53.5,272.0 53.9,274.0 54.3,275.9 54.7,277.9 55.0,280.0 55.3,282.2 55.6,284.5 55.9,286.9 56.1,289.2 56.5,291.5 56.8,293.6 57.2,295.6 57.6,297.4 58.1,299.2 58.6,300.9 59.0,302.5 59.5,304.0 59.9,305.4 60.4,306.6 60.8,307.8 61.2,309.0 61.7,310.1 62.1,311.4 62.5,312.8 63.0,314.3 63.4,315.8 63.8,317.3 64.3,318.7 64.7,320.0 65.1,321.1 65.5,322.0 65.9,322.8 66.4,323.7 66.9,324.6 67.5,325.7 68.2,327.0 69.1,328.6 70.0,330.2 70.9,331.8 71.9,333.3 72.9,334.6 73.9,335.7 75.0,336.7 76.2,337.6 77.3,338.5 78.3,339.2 79.1,340.0 79.8,340.8 80.3,341.6 80.7,342.4 81.1,343.0 81.4,343.5 81.8,343.6 82.2,343.3 82.6,342.5 83.0,341.5 83.4,340.6 83.8,339.8 84.1,339.6 84.4,340.0 84.6,340.8 84.7,341.9 84.9,343.0 85.1,344.0 85.4,344.5 85.8,344.4 86.2,343.9 86.7,343.2 87.1,342.6 87.6,342.3 88.0,342.7 88.4,344.1 88.7,346.5 89.0,349.2 89.3,351.7 89.6,353.6 89.8,354.3 90.0,353.4 90.1,351.3 90.2,348.4 90.3,345.5 90.5,343.1 90.7,341.8 91.0,341.7 91.3,342.3 91.6,343.5 92.0,344.9 92.6,346.2 93.4,347.1 94.4,347.7 95.5,348.2 96.7,348.7 98.1,349.1 99.7,349.4 101.4,349.8 103.4,350.2 105.8,350.5 108.4,350.8 110.9,351.1 113.2,351.3 115.0,351.6 116.2,351.8 116.7,352.0 117.1,352.2 117.5,352.3 118.4,352.5 120.0,352.8 122.3,353.1 125.2,353.6 128.4,354.0 132.0,354.4 135.9,354.9 140.0,355.2 144.6,355.5 150.0,355.7 155.6,355.9 161.1,356.1 166.0,356.3 170.0,356.4 173.0,356.5 175.3,356.6 177.1,356.7 178.5,356.8 179.6,356.7 180.6,356.5 181.3,356.1 181.7,355.6 181.7,355.0 181.6,354.3 181.6,353.6 181.6,353.0 181.7,352.4 181.8,351.7 182.0,351.0 182.1,350.4 182.2,350.0 182.3,349.8 182.4,349.9 182.6,350.2 182.7,350.7 182.9,351.3 183.0,351.9 183.2,352.5 183.3,353.1 183.2,353.8 183.2,354.5 183.3,355.2 183.7,355.8 184.4,356.2 185.5,356.4 186.9,356.5 188.6,356.5 190.5,356.5 192.6,356.4 195.0,356.4 197.9,356.4 201.5,356.5 205.3,356.5 209.0,356.5 212.1,356.6 214.3,356.6" fill="none" stroke="#8f2ee8" stroke-width="1.8" stroke-linejoin="round" stroke-linecap="round" />
<polyline points="32.8,352.4 33.4,350.8 34.2,348.5 35.2,345.8 36.2,343.0 37.2,340.3 38.0,338.0 38.7,336.1 39.3,334.3 39.9,332.6 40.5,331.0 41.0,329.5 41.5,328.0 42.0,326.6 42.4,325.3 42.8,324.0 43.2,322.7 43.5,321.4 43.8,320.0 44.0,318.6 44.2,317.3 44.3,315.9 44.4,314.3 44.6,312.4 44.8,310.0 45.1,306.9 45.5,303.1 46.0,299.0 46.4,294.9 46.8,291.1 47.2,288.0 47.5,285.7 47.7,284.0 48.0,282.6 48.2,281.3 48.4,279.9 48.6,278.0 48.8,275.7 49.1,273.1 49.3,270.4 49.5,267.6 49.8,264.8 50.0,262.0 50.3,259.1 50.5,256.1 50.8,253.0 51.0,250.1 51.3,247.4 51.6,245.0 51.9,242.9 52.2,241.0 52.5,239.2 52.8,237.8 53.1,236.8 53.4,236.2 53.7,236.0 53.9,236.3 54.2,236.9 54.4,237.8 54.7,239.2 55.0,241.0 55.4,243.3 55.8,246.2 56.2,249.6 56.7,253.1 57.1,256.6 57.5,260.0 57.9,263.3 58.2,266.7 58.6,270.2 58.9,273.6 59.3,276.9 59.6,280.0 59.9,282.9 60.2,285.7 60.5,288.3 60.8,290.9 61.2,293.4 61.5,296.0 61.9,298.7 62.2,301.4 62.6,304.2 63.1,306.8 63.5,309.2 63.9,311.4 64.3,313.3 64.8,314.9 65.3,316.3 65.8,317.6 66.2,318.8 66.7,320.0 67.1,321.0 67.5,321.8 67.8,322.5 68.2,323.3 68.7,324.3 69.3,325.7 70.0,327.7 70.8,330.2 71.7,332.9 72.6,335.6 73.6,338.0 74.6,340.0 75.7,341.4 76.8,342.5 78.0,343.4 79.2,344.1 80.5,344.7 81.8,345.4 83.0,346.1 84.1,346.6 85.2,347.1 86.5,347.7 88.3,348.2 90.7,348.9 93.7,349.7 97.3,350.7 101.2,351.7 105.5,352.7 110.2,353.6 115.0,354.3 119.9,354.9 124.8,355.3 130.0,355.7 135.8,356.0 142.3,356.3 150.0,356.6 159.8,356.9 171.6,357.1 184.3,357.2 196.5,357.4 207.0,357.5 214.3,357.6" fill="none" stroke="#2e9a2e" stroke-width="1.8" stroke-linejoin="round" stroke-linecap="round" />
</g>
<polygon points="85.6,273.9 90.8,238.6 128.4,232 122.5,266.6" fill="#dcdcdc" stroke="#b4b4b4" stroke-width="0.7"/>
<polygon points="87.9,271.6 92.6,240.6 125.7,234.6 119.8,265.6" fill="none" stroke="#333" stroke-width="0.8"/>
<line x1="90.25" y1="256.1" x2="122.75" y2="250.1" stroke="#333" stroke-width="0.8" />
<line x1="109.15" y1="237.6" x2="103.85" y2="268.6" stroke="#333" stroke-width="0.8" />
<polygon points="155.3,275.3 162.3,239.5 198,232 191.5,268.3" fill="#dcdcdc" stroke="#c8c8c8" stroke-width="0.5"/>
<rect x="163.5" y="240.2" width="26.1" height="26.7" fill="none" stroke="#333" stroke-width="0.8"/>
<line x1="176.55" y1="240.2" x2="176.55" y2="266.9" stroke="#333" stroke-width="0.8" />
<line x1="163.5" y1="253.55" x2="189.6" y2="253.55" stroke="#333" stroke-width="0.8" />
<rect x="86.8" y="282" width="38.8" height="38.6" fill="#dcdcdc" stroke="#c4c4c4" stroke-width="0.6"/>
<rect x="89.2" y="284.3" width="34.5" height="33.9" fill="none" stroke="#333" stroke-width="0.8"/>
<line x1="106.3" y1="284.3" x2="106.3" y2="318.2" stroke="#333" stroke-width="0.8" />
<line x1="89.2" y1="301.3" x2="123.7" y2="301.3" stroke="#333" stroke-width="0.8" />
<rect x="157.1" y="282" width="39.1" height="38.6" fill="#dcdcdc" stroke="#c8c8c8" stroke-width="0.5"/>
<rect x="163.5" y="288.3" width="26.4" height="25.7" fill="none" stroke="#333" stroke-width="0.8"/>
<line x1="176.8" y1="288.3" x2="176.8" y2="314" stroke="#333" stroke-width="0.8" />
<line x1="163.5" y1="301.2" x2="189.9" y2="301.2" stroke="#333" stroke-width="0.8" />
<line x1="77" y1="228.5" x2="92.2" y2="228.5" stroke="#000" stroke-width="1.8" />
<text x="93.4" y="230.8" font-size="6.6" text-anchor="start" font-weight="normal" font-style="normal" fill="#000" stroke="#000" stroke-width="0.15" >Pristine</text>
<line x1="77" y1="276.9" x2="92.2" y2="276.9" stroke="#8f2ee8" stroke-width="1.8" />
<text x="93.4" y="279.2" font-size="6.6" text-anchor="start" font-weight="normal" font-style="normal" fill="#000" stroke="#000" stroke-width="0.15" >Diagonal (SC X)</text>
<line x1="149.4" y1="276.9" x2="165.3" y2="276.9" stroke="#2e9a2e" stroke-width="1.8" />
<text x="166.5" y="279.2" font-size="6.6" text-anchor="start" font-weight="normal" font-style="normal" fill="#000" stroke="#000" stroke-width="0.15" >Diagonal (SC O)</text>
<line x1="77" y1="325.2" x2="92.7" y2="325.2" stroke="#4a87e6" stroke-width="1.8" />
<text x="93.9" y="327.5" font-size="6.6" text-anchor="start" font-weight="normal" font-style="normal" fill="#000" stroke="#000" stroke-width="0.15" >Biaxial (SC X)</text>
<line x1="148.3" y1="325.2" x2="163.5" y2="325.2" stroke="#e8221f" stroke-width="1.8" />
<text x="164.7" y="327.5" font-size="6.6" text-anchor="start" font-weight="normal" font-style="normal" fill="#000" stroke="#000" stroke-width="0.15" >Biaxial (SC O)</text>
<text x="237.2" y="223.4" font-size="13.2" text-anchor="start" font-weight="normal" font-style="normal" fill="#000" stroke="#000" stroke-width="0.45">e</text>
<line x1="265.9" y1="224" x2="449.1" y2="224" stroke="#999" stroke-width="1" />
<line x1="448.6" y1="224" x2="448.6" y2="359.4" stroke="#555" stroke-width="1" />
<line x1="266.4" y1="223.5" x2="266.4" y2="359.9" stroke="#444" stroke-width="1" />
<line x1="265.9" y1="359.4" x2="449.1" y2="359.4" stroke="#444" stroke-width="1" />
<line x1="296.75" y1="359.4" x2="296.75" y2="356.9" stroke="#444" stroke-width="0.9" />
<line x1="327.09999999999997" y1="359.4" x2="327.09999999999997" y2="356.9" stroke="#444" stroke-width="0.9" />
<line x1="357.45" y1="359.4" x2="357.45" y2="356.9" stroke="#444" stroke-width="0.9" />
<line x1="387.79999999999995" y1="359.4" x2="387.79999999999995" y2="356.9" stroke="#444" stroke-width="0.9" />
<line x1="418.15" y1="359.4" x2="418.15" y2="356.9" stroke="#444" stroke-width="0.9" />
<line x1="281.575" y1="359.4" x2="281.575" y2="357.9" stroke="#444" stroke-width="0.9" />
<line x1="311.92499999999995" y1="359.4" x2="311.92499999999995" y2="357.9" stroke="#444" stroke-width="0.9" />
<line x1="342.275" y1="359.4" x2="342.275" y2="357.9" stroke="#444" stroke-width="0.9" />
<line x1="372.625" y1="359.4" x2="372.625" y2="357.9" stroke="#444" stroke-width="0.9" />
<line x1="402.975" y1="359.4" x2="402.975" y2="357.9" stroke="#444" stroke-width="0.9" />
<line x1="433.325" y1="359.4" x2="433.325" y2="357.9" stroke="#444" stroke-width="0.9" />
<line x1="266.4" y1="236.4" x2="268.9" y2="236.4" stroke="#444" stroke-width="0.9" />
<line x1="266.4" y1="261.0" x2="268.9" y2="261.0" stroke="#444" stroke-width="0.9" />
<line x1="266.4" y1="285.6" x2="268.9" y2="285.6" stroke="#444" stroke-width="0.9" />
<line x1="266.4" y1="310.2" x2="268.9" y2="310.2" stroke="#444" stroke-width="0.9" />
<line x1="266.4" y1="334.8" x2="268.9" y2="334.8" stroke="#444" stroke-width="0.9" />
<line x1="266.4" y1="248.70000000000002" x2="267.9" y2="248.70000000000002" stroke="#444" stroke-width="0.9" />
<line x1="266.4" y1="273.3" x2="267.9" y2="273.3" stroke="#444" stroke-width="0.9" />
<line x1="266.4" y1="297.9" x2="267.9" y2="297.9" stroke="#444" stroke-width="0.9" />
<line x1="266.4" y1="322.5" x2="267.9" y2="322.5" stroke="#444" stroke-width="0.9" />
<line x1="266.4" y1="347.1" x2="267.9" y2="347.1" stroke="#444" stroke-width="0.9" />
<text x="266.4" y="371.4" font-size="10.5" text-anchor="middle" font-weight="normal" font-style="normal" fill="#000" stroke="#000" stroke-width="0.15" >0</text>
<text x="296.75" y="371.4" font-size="10.5" text-anchor="middle" font-weight="normal" font-style="normal" fill="#000" stroke="#000" stroke-width="0.15" >5</text>
<text x="327.09999999999997" y="371.4" font-size="10.5" text-anchor="middle" font-weight="normal" font-style="normal" fill="#000" stroke="#000" stroke-width="0.15" >10</text>
<text x="357.45" y="371.4" font-size="10.5" text-anchor="middle" font-weight="normal" font-style="normal" fill="#000" stroke="#000" stroke-width="0.15" >15</text>
<text x="387.79999999999995" y="371.4" font-size="10.5" text-anchor="middle" font-weight="normal" font-style="normal" fill="#000" stroke="#000" stroke-width="0.15" >20</text>
<text x="418.15" y="371.4" font-size="10.5" text-anchor="middle" font-weight="normal" font-style="normal" fill="#000" stroke="#000" stroke-width="0.15" >25</text>
<text x="448.5" y="371.4" font-size="10.5" text-anchor="middle" font-weight="normal" font-style="normal" fill="#000" stroke="#000" stroke-width="0.15" >30</text>
<text x="263.4" y="240.20000000000002" font-size="10.5" text-anchor="end" font-weight="normal" font-style="normal" fill="#000" stroke="#000" stroke-width="0.15" >0</text>
<text x="263.4" y="264.8" font-size="10.5" text-anchor="end" font-weight="normal" font-style="normal" fill="#000" stroke="#000" stroke-width="0.15" >-5</text>
<text x="263.4" y="289.40000000000003" font-size="10.5" text-anchor="end" font-weight="normal" font-style="normal" fill="#000" stroke="#000" stroke-width="0.15" >-10</text>
<text x="263.4" y="314.0" font-size="10.5" text-anchor="end" font-weight="normal" font-style="normal" fill="#000" stroke="#000" stroke-width="0.15" >-15</text>
<text x="263.4" y="338.6" font-size="10.5" text-anchor="end" font-weight="normal" font-style="normal" fill="#000" stroke="#000" stroke-width="0.15" >-20</text>
<text x="263.4" y="363.2" font-size="10.5" text-anchor="end" font-weight="normal" font-style="normal" fill="#000" stroke="#000" stroke-width="0.15" >-25</text>
<text x="357.3" y="389.1" font-size="11.9" text-anchor="middle" font-weight="normal" font-style="normal" fill="#000" stroke="#000" stroke-width="0.15" >Frequency (GHz)</text>
<text stroke="#000" stroke-width="0.15" transform="translate(242.6,299.3) rotate(-90)" font-size="11.75" text-anchor="middle">S21 (dB)</text>
<line x1="280" y1="224" x2="280" y2="359.4" stroke="#444" stroke-width="1.5" stroke-dasharray="2.7,1.5"/>
<line x1="280" y1="364.5" x2="280" y2="368" stroke="#fa1e1e" stroke-width="1.8" />
<polygon points="280.00,361.60 282.20,365.20 277.80,365.20" fill="#fa1e1e"/>
<text x="283.5" y="379" font-size="10.8" text-anchor="middle" font-weight="bold" font-style="normal" fill="#fa1e1e" stroke="#fa1e1e" stroke-width="0.3">2.4 GHz</text>
<line x1="304.4" y1="230.4" x2="325" y2="230.4" stroke="#000" stroke-width="2" />
<text x="327.4" y="233.0" font-size="9.1" text-anchor="start" font-weight="normal" font-style="normal" fill="#000" stroke="#000" stroke-width="0.15" >Infinite array</text>
<line x1="383" y1="230.4" x2="404" y2="230.4" stroke="#e8231f" stroke-width="2" />
<text x="406.4" y="233.0" font-size="9.1" text-anchor="start" font-weight="normal" font-style="normal" fill="#000" stroke="#000" stroke-width="0.15" >4-unit cell</text>
<clipPath id="ce"><rect x="266.9" y="224.5" width="181.2" height="134.4"/></clipPath>
<g clip-path="url(#ce)">
<polyline points="272.8,286.4 273.2,282.3 273.8,276.4 274.4,270.2 274.9,265.0 275.3,261.4 275.6,258.5 275.8,256.1 276.2,253.5 276.6,250.8 277.1,248.1 277.7,245.6 278.2,243.3 278.7,241.2 279.3,239.2 279.8,237.6 280.3,236.7 280.8,236.6 281.2,237.0 281.7,238.0 282.3,239.2 283.0,240.8 283.8,242.9 284.6,245.2 285.4,247.4 286.1,249.5 286.7,251.6 287.3,253.6 287.9,255.6 288.5,257.4 289.1,258.9 289.7,260.7 290.5,263.0 291.4,266.1 292.4,269.8 293.4,273.6 294.6,277.0 295.9,279.8 297.2,282.4 298.6,284.9 300.0,287.5 301.4,290.5 302.8,293.6 304.2,296.6 305.4,299.0 306.4,300.5 307.2,301.5 308.0,302.3 308.9,303.6 310.0,305.7 311.2,308.2 312.4,310.7 313.4,312.5 314.1,313.4 314.7,313.7 315.3,313.8 316.0,314.0 317.0,314.4 318.1,314.8 319.3,315.3 320.5,316.1 321.7,317.2 322.8,318.6 324.0,320.0 325.0,321.4 325.9,322.6 326.7,323.7 327.4,324.9 328.2,326.1 329.0,327.4 329.8,328.8 330.6,330.3 331.3,331.6 331.8,332.8 332.2,334.0 332.6,335.2 332.9,336.4 333.2,337.9 333.4,339.5 333.5,341.0 333.7,341.9 333.9,342.0 334.1,341.4 334.3,340.9 334.5,341.1 334.7,342.2 334.8,343.7 335.0,345.6 335.3,347.5 335.7,349.8 336.2,352.5 336.7,354.8 337.3,355.7 338.0,354.8 338.7,352.7 339.4,350.0 340.0,347.5 340.5,345.3 340.9,342.9 341.3,340.5 341.6,338.0 341.9,335.3 342.2,332.4 342.5,329.5 342.7,326.9 342.9,324.2 343.1,321.4 343.3,319.2 343.5,318.2 343.7,319.0 343.8,321.1 344.0,323.5 344.3,325.3 344.8,326.2 345.5,326.8 346.3,327.2 347.2,327.7 348.3,328.3 349.6,329.0 350.8,329.6 351.9,330.1 352.7,330.5 353.2,330.7 353.8,331.0 354.3,331.6 354.9,332.8 355.4,334.4 356.0,335.8 356.6,336.4 357.2,335.9 357.7,334.8 358.3,333.2 359.0,331.6 359.7,329.7 360.6,327.5 361.4,325.4 362.2,323.7 363.0,322.4 363.7,321.5 364.5,320.8 365.3,320.6 366.1,320.9 366.9,321.6 367.7,322.6 368.5,323.7 369.3,325.0 370.0,326.5 370.8,328.0 371.7,329.3 372.8,330.2 373.9,330.8 375.2,331.5 376.6,332.5 378.2,334.0 379.8,335.9 381.6,337.8 383.3,339.2 384.9,340.0 386.5,340.4 388.2,340.7 389.9,341.2 391.9,342.1 394.0,343.1 396.1,344.1 397.9,344.7 399.4,344.8 400.8,344.5 402.0,344.2 403.2,344.2 404.2,344.7 405.1,345.5 406.1,346.4 407.1,347.1 408.3,347.8 409.6,348.4 411.0,348.9 412.4,349.1 413.9,348.8 415.4,348.1 417.0,347.5 418.4,347.4 419.6,348.0 420.7,349.0 421.8,350.1 423.0,351.1 424.3,351.8 425.7,352.4 427.0,353.1 428.4,353.8 429.8,354.7 431.2,355.8 432.6,356.8 433.7,357.7 434.5,358.4 435.1,359.1 435.6,359.7 436.3,360.4 437.2,361.3 438.3,362.4 439.3,363.3 440.0,364.0" fill="none" stroke="#000" stroke-width="1.9" stroke-linejoin="round" stroke-linecap="round" />
<polyline points="272.3,327.5 272.6,322.8 273.0,316.1 273.5,308.4 274.0,300.7 274.4,292.6 274.8,283.8 275.3,275.3 275.7,268.0 276.2,262.3 276.7,257.7 277.2,253.8 277.7,250.4 278.1,247.4 278.5,245.0 278.9,243.1 279.3,241.3 279.7,239.6 280.0,238.1 280.4,237.1 280.8,236.7 281.3,237.1 281.7,238.1 282.2,239.6 282.8,241.3 283.4,243.3 284.1,245.7 284.8,248.2 285.4,250.4 286.0,252.5 286.5,254.5 286.9,256.2 287.4,257.6 287.8,258.4 288.2,258.6 288.5,258.8 289.0,259.1 289.6,259.6 290.2,260.2 290.9,260.8 291.5,261.7 292.0,262.5 292.5,263.4 293.0,264.7 293.6,266.8 294.3,270.2 295.0,274.5 295.7,279.0 296.4,282.9 297.1,286.1 297.7,289.0 298.3,291.5 299.0,293.6 299.7,295.2 300.4,296.3 301.1,297.2 301.7,298.0 302.2,298.7 302.7,299.2 303.2,299.6 303.6,300.0 304.0,300.6 304.5,301.2 304.9,301.7 305.4,301.8 306.0,301.2 306.6,300.2 307.3,299.1 308.0,298.2 308.7,297.7 309.3,297.4 310.0,297.1 310.7,296.4 311.4,295.3 312.1,293.9 312.7,292.5 313.4,291.1 314.1,289.7 314.7,288.2 315.4,287.1 316.0,286.6 316.5,287.1 317.0,288.3 317.5,289.8 317.9,291.1 318.3,292.3 318.6,293.5 319.0,294.6 319.6,295.5 320.4,295.8 321.3,295.8 322.3,295.8 323.2,296.4 323.9,297.7 324.6,299.4 325.2,301.4 325.9,303.6 326.6,306.0 327.2,308.8 327.9,311.6 328.6,314.3 329.3,317.1 330.1,320.0 330.7,322.6 331.3,324.5 331.6,325.5 331.8,325.8 332.0,325.7 332.3,325.3 332.7,324.6 333.3,323.4 333.9,322.0 334.5,320.6 335.2,319.0 336.0,317.3 336.9,315.6 337.7,314.2 338.5,313.0 339.2,311.9 340.0,311.1 340.8,310.8 341.6,311.1 342.4,312.0 343.3,313.1 344.0,314.2 344.7,315.3 345.3,316.4 345.8,317.7 346.4,319.0 346.9,320.5 347.4,322.2 348.0,323.9 348.7,325.3 349.6,326.6 350.7,327.7 351.8,328.6 352.7,329.3 353.4,329.7 354.0,329.9 354.5,329.8 355.1,329.3 355.8,328.2 356.6,326.7 357.4,325.1 358.2,323.7 359.0,322.6 359.8,321.6 360.6,320.8 361.4,320.3 362.2,320.2 363.0,320.3 363.8,320.8 364.6,321.4 365.4,322.4 366.1,323.6 366.9,324.9 367.7,326.1 368.5,327.1 369.3,328.0 370.1,328.8 370.9,329.3 371.8,329.4 372.8,329.1 373.7,328.7 374.6,328.6 375.3,328.9 375.9,329.4 376.5,329.8 377.3,329.9 378.3,329.3 379.4,328.2 380.7,327.2 381.9,327.0 383.1,327.8 384.4,329.4 385.8,331.1 387.2,332.5 388.8,333.6 390.6,334.7 392.4,335.5 393.9,335.9 395.1,335.6 396.1,334.9 397.0,333.9 397.9,333.2 398.9,332.6 399.8,331.9 400.8,331.5 401.8,331.5 402.8,332.1 403.8,333.1 404.8,334.2 405.8,335.2 406.8,336.0 407.9,336.6 408.9,337.3 409.8,337.9 410.5,338.6 411.1,339.2 411.7,339.8 412.4,340.2 413.2,340.4 414.0,340.6 414.9,340.5 415.8,340.2 416.8,339.4 417.8,338.3 418.8,337.2 419.7,336.5 420.3,336.4 420.8,336.7 421.2,337.1 421.7,337.2 422.3,336.9 422.9,336.3 423.6,335.9 424.4,335.9 425.3,336.5 426.3,337.5 427.4,338.6 428.4,339.8 429.4,341.0 430.3,342.4 431.3,343.7 432.3,344.7 433.3,345.3 434.2,345.7 435.2,345.8 436.3,345.8 437.5,345.6 438.8,345.2 440.2,344.6 441.6,343.8 443.1,342.5 444.8,340.9 446.4,339.2 447.6,337.9 448.4,337.0 448.9,336.3 449.3,335.8 449.5,335.5" fill="none" stroke="#e8221f" stroke-width="1.9" stroke-linejoin="round" stroke-linecap="round" />
</g>
<rect x="322.3" y="238.6" width="53.6" height="50.52" fill="#c2c3c6"/>
<rect x="323.10" y="239.40" width="11.80" height="11.03" fill="#d7d9dc" stroke="#b4b5b8" stroke-width="0.6"/>
<line x1="329.0" y1="239.6" x2="329.0" y2="250.23" stroke="#a9aaad" stroke-width="0.6" />
<line x1="323.3" y1="244.91" x2="334.7" y2="244.91" stroke="#a9aaad" stroke-width="0.6" />
<rect x="323.10" y="252.03" width="11.80" height="11.03" fill="#d7d9dc" stroke="#b4b5b8" stroke-width="0.6"/>
<line x1="329.0" y1="252.23" x2="329.0" y2="262.86" stroke="#a9aaad" stroke-width="0.6" />
<line x1="323.3" y1="257.55" x2="334.7" y2="257.55" stroke="#a9aaad" stroke-width="0.6" />
<rect x="323.10" y="264.66" width="11.80" height="11.03" fill="#d7d9dc" stroke="#b4b5b8" stroke-width="0.6"/>
<line x1="329.0" y1="264.86" x2="329.0" y2="275.49" stroke="#a9aaad" stroke-width="0.6" />
<line x1="323.3" y1="270.18" x2="334.7" y2="270.18" stroke="#a9aaad" stroke-width="0.6" />
<rect x="323.10" y="277.29" width="11.80" height="11.03" fill="#d7d9dc" stroke="#b4b5b8" stroke-width="0.6"/>
<line x1="329.0" y1="277.49" x2="329.0" y2="288.12" stroke="#a9aaad" stroke-width="0.6" />
<line x1="323.3" y1="282.81" x2="334.7" y2="282.81" stroke="#a9aaad" stroke-width="0.6" />
<rect x="336.50" y="239.40" width="11.80" height="11.03" fill="#d7d9dc" stroke="#b4b5b8" stroke-width="0.6"/>
<line x1="342.4" y1="239.6" x2="342.4" y2="250.23" stroke="#a9aaad" stroke-width="0.6" />
<line x1="336.7" y1="244.91" x2="348.1" y2="244.91" stroke="#a9aaad" stroke-width="0.6" />
<rect x="336.50" y="252.03" width="11.80" height="11.03" fill="#d7d9dc" stroke="#b4b5b8" stroke-width="0.6"/>
<line x1="342.4" y1="252.23" x2="342.4" y2="262.86" stroke="#a9aaad" stroke-width="0.6" />
<line x1="336.7" y1="257.55" x2="348.1" y2="257.55" stroke="#a9aaad" stroke-width="0.6" />
<rect x="336.50" y="264.66" width="11.80" height="11.03" fill="#d7d9dc" stroke="#b4b5b8" stroke-width="0.6"/>
<line x1="342.4" y1="264.86" x2="342.4" y2="275.49" stroke="#a9aaad" stroke-width="0.6" />
<line x1="336.7" y1="270.18" x2="348.1" y2="270.18" stroke="#a9aaad" stroke-width="0.6" />
<rect x="336.50" y="277.29" width="11.80" height="11.03" fill="#d7d9dc" stroke="#b4b5b8" stroke-width="0.6"/>
<line x1="342.4" y1="277.49" x2="342.4" y2="288.12" stroke="#a9aaad" stroke-width="0.6" />
<line x1="336.7" y1="282.81" x2="348.1" y2="282.81" stroke="#a9aaad" stroke-width="0.6" />
<rect x="349.90" y="239.40" width="11.80" height="11.03" fill="#d7d9dc" stroke="#b4b5b8" stroke-width="0.6"/>
<line x1="355.8" y1="239.6" x2="355.8" y2="250.23" stroke="#a9aaad" stroke-width="0.6" />
<line x1="350.1" y1="244.91" x2="361.5" y2="244.91" stroke="#a9aaad" stroke-width="0.6" />
<rect x="349.90" y="252.03" width="11.80" height="11.03" fill="#d7d9dc" stroke="#b4b5b8" stroke-width="0.6"/>
<line x1="355.8" y1="252.23" x2="355.8" y2="262.86" stroke="#a9aaad" stroke-width="0.6" />
<line x1="350.1" y1="257.55" x2="361.5" y2="257.55" stroke="#a9aaad" stroke-width="0.6" />
<rect x="349.90" y="264.66" width="11.80" height="11.03" fill="#d7d9dc" stroke="#b4b5b8" stroke-width="0.6"/>
<line x1="355.8" y1="264.86" x2="355.8" y2="275.49" stroke="#a9aaad" stroke-width="0.6" />
<line x1="350.1" y1="270.18" x2="361.5" y2="270.18" stroke="#a9aaad" stroke-width="0.6" />
<rect x="349.90" y="277.29" width="11.80" height="11.03" fill="#d7d9dc" stroke="#b4b5b8" stroke-width="0.6"/>
<line x1="355.8" y1="277.49" x2="355.8" y2="288.12" stroke="#a9aaad" stroke-width="0.6" />
<line x1="350.1" y1="282.81" x2="361.5" y2="282.81" stroke="#a9aaad" stroke-width="0.6" />
<rect x="363.30" y="239.40" width="11.80" height="11.03" fill="#d7d9dc" stroke="#b4b5b8" stroke-width="0.6"/>
<line x1="369.2" y1="239.6" x2="369.2" y2="250.23" stroke="#a9aaad" stroke-width="0.6" />
<line x1="363.5" y1="244.91" x2="374.9" y2="244.91" stroke="#a9aaad" stroke-width="0.6" />
<rect x="363.30" y="252.03" width="11.80" height="11.03" fill="#d7d9dc" stroke="#b4b5b8" stroke-width="0.6"/>
<line x1="369.2" y1="252.23" x2="369.2" y2="262.86" stroke="#a9aaad" stroke-width="0.6" />
<line x1="363.5" y1="257.55" x2="374.9" y2="257.55" stroke="#a9aaad" stroke-width="0.6" />
<rect x="363.30" y="264.66" width="11.80" height="11.03" fill="#d7d9dc" stroke="#b4b5b8" stroke-width="0.6"/>
<line x1="369.2" y1="264.86" x2="369.2" y2="275.49" stroke="#a9aaad" stroke-width="0.6" />
<line x1="363.5" y1="270.18" x2="374.9" y2="270.18" stroke="#a9aaad" stroke-width="0.6" />
<rect x="363.30" y="277.29" width="11.80" height="11.03" fill="#d7d9dc" stroke="#b4b5b8" stroke-width="0.6"/>
<line x1="369.2" y1="277.49" x2="369.2" y2="288.12" stroke="#a9aaad" stroke-width="0.6" />
<line x1="363.5" y1="282.81" x2="374.9" y2="282.81" stroke="#a9aaad" stroke-width="0.6" />
<rect x="405" y="241.6" width="26" height="25.8" fill="#c2c3c6"/>
<rect x="405.80" y="242.40" width="11.40" height="11.30" fill="#d7d9dc" stroke="#b4b5b8" stroke-width="0.6"/>
<line x1="411.5" y1="242.6" x2="411.5" y2="253.5" stroke="#a9aaad" stroke-width="0.6" />
<line x1="406" y1="248.05" x2="417" y2="248.05" stroke="#a9aaad" stroke-width="0.6" />
<rect x="405.80" y="255.30" width="11.40" height="11.30" fill="#d7d9dc" stroke="#b4b5b8" stroke-width="0.6"/>
<line x1="411.5" y1="255.5" x2="411.5" y2="266.4" stroke="#a9aaad" stroke-width="0.6" />
<line x1="406" y1="260.95" x2="417" y2="260.95" stroke="#a9aaad" stroke-width="0.6" />
<rect x="418.80" y="242.40" width="11.40" height="11.30" fill="#d7d9dc" stroke="#b4b5b8" stroke-width="0.6"/>
<line x1="424.5" y1="242.6" x2="424.5" y2="253.5" stroke="#a9aaad" stroke-width="0.6" />
<line x1="419" y1="248.05" x2="430" y2="248.05" stroke="#a9aaad" stroke-width="0.6" />
<rect x="418.80" y="255.30" width="11.40" height="11.30" fill="#d7d9dc" stroke="#b4b5b8" stroke-width="0.6"/>
<line x1="424.5" y1="255.5" x2="424.5" y2="266.4" stroke="#a9aaad" stroke-width="0.6" />
<line x1="419" y1="260.95" x2="430" y2="260.95" stroke="#a9aaad" stroke-width="0.6" />
<path d="M310.6,252.4 C309.1,248.8 305.0,248.8 305.0,252.4 C305.0,256.0 309.1,256.0 310.6,252.4 C312.1,248.8 316.20000000000005,248.8 316.20000000000005,252.4 C316.20000000000005,256.0 312.1,256.0 310.6,252.4 Z" fill="none" stroke="#000" stroke-width="1.05"/>
<path d="M362.1,299.7 C360.6,296.09999999999997 356.5,296.09999999999997 356.5,299.7 C356.5,303.3 360.6,303.3 362.1,299.7 C363.6,296.09999999999997 367.70000000000005,296.09999999999997 367.70000000000005,299.7 C367.70000000000005,303.3 363.6,303.3 362.1,299.7 Z" fill="none" stroke="#000" stroke-width="1.05"/>
<circle cx="304" cy="263.8" r="1.35" fill="#000"/>
<circle cx="310.7" cy="263.8" r="1.35" fill="#000"/>
<circle cx="317.3" cy="263.8" r="1.35" fill="#000"/>
<circle cx="349" cy="293.8" r="1.3" fill="#000"/>
<circle cx="349" cy="300.1" r="1.3" fill="#000"/>
<circle cx="349" cy="306.5" r="1.3" fill="#000"/>
<text x="466.6" y="223.4" font-size="13.2" text-anchor="start" font-weight="normal" font-style="normal" fill="#000" stroke="#000" stroke-width="0.45">f</text>
<line x1="499.9" y1="224.4" x2="682.5" y2="224.4" stroke="#555" stroke-width="1" />
<line x1="682" y1="224.4" x2="682" y2="359.4" stroke="#999" stroke-width="1" />
<line x1="500.4" y1="223.9" x2="500.4" y2="359.9" stroke="#999" stroke-width="1" />
<line x1="499.9" y1="359.4" x2="682.5" y2="359.4" stroke="#999" stroke-width="1" />
<line x1="545.9" y1="359.4" x2="545.9" y2="356.9" stroke="#999" stroke-width="0.9" />
<line x1="591.4" y1="359.4" x2="591.4" y2="356.9" stroke="#999" stroke-width="0.9" />
<line x1="636.9" y1="359.4" x2="636.9" y2="356.9" stroke="#999" stroke-width="0.9" />
<line x1="523.15" y1="359.4" x2="523.15" y2="357.9" stroke="#999" stroke-width="0.9" />
<line x1="568.65" y1="359.4" x2="568.65" y2="357.9" stroke="#999" stroke-width="0.9" />
<line x1="614.15" y1="359.4" x2="614.15" y2="357.9" stroke="#999" stroke-width="0.9" />
<line x1="659.65" y1="359.4" x2="659.65" y2="357.9" stroke="#999" stroke-width="0.9" />
<line x1="500.4" y1="236.4" x2="502.9" y2="236.4" stroke="#999" stroke-width="0.9" />
<line x1="500.4" y1="261.02" x2="502.9" y2="261.02" stroke="#999" stroke-width="0.9" />
<line x1="500.4" y1="285.64" x2="502.9" y2="285.64" stroke="#999" stroke-width="0.9" />
<line x1="500.4" y1="310.26" x2="502.9" y2="310.26" stroke="#999" stroke-width="0.9" />
<line x1="500.4" y1="334.88" x2="502.9" y2="334.88" stroke="#999" stroke-width="0.9" />
<line x1="500.4" y1="248.71" x2="501.9" y2="248.71" stroke="#999" stroke-width="0.9" />
<line x1="500.4" y1="273.33" x2="501.9" y2="273.33" stroke="#999" stroke-width="0.9" />
<line x1="500.4" y1="297.95" x2="501.9" y2="297.95" stroke="#999" stroke-width="0.9" />
<line x1="500.4" y1="322.57" x2="501.9" y2="322.57" stroke="#999" stroke-width="0.9" />
<line x1="500.4" y1="347.19" x2="501.9" y2="347.19" stroke="#999" stroke-width="0.9" />
<line x1="500.4" y1="224.09" x2="501.9" y2="224.09" stroke="#999" stroke-width="0.9" />
<text x="500.4" y="371.4" font-size="10.5" text-anchor="middle" font-weight="normal" font-style="normal" fill="#000" stroke="#000" stroke-width="0.15" >1</text>
<text x="545.9" y="371.4" font-size="10.5" text-anchor="middle" font-weight="normal" font-style="normal" fill="#000" stroke="#000" stroke-width="0.15" >2</text>
<text x="591.4" y="371.4" font-size="10.5" text-anchor="middle" font-weight="normal" font-style="normal" fill="#000" stroke="#000" stroke-width="0.15" >3</text>
<text x="636.9" y="371.4" font-size="10.5" text-anchor="middle" font-weight="normal" font-style="normal" fill="#000" stroke="#000" stroke-width="0.15" >4</text>
<text x="682.4" y="371.4" font-size="10.5" text-anchor="middle" font-weight="normal" font-style="normal" fill="#000" stroke="#000" stroke-width="0.15" >5</text>
<text x="497.4" y="240.20000000000002" font-size="10.5" text-anchor="end" font-weight="normal" font-style="normal" fill="#000" stroke="#000" stroke-width="0.15" >0</text>
<text x="497.4" y="264.82" font-size="10.5" text-anchor="end" font-weight="normal" font-style="normal" fill="#000" stroke="#000" stroke-width="0.15" >-2</text>
<text x="497.4" y="289.44" font-size="10.5" text-anchor="end" font-weight="normal" font-style="normal" fill="#000" stroke="#000" stroke-width="0.15" >-4</text>
<text x="497.4" y="314.06" font-size="10.5" text-anchor="end" font-weight="normal" font-style="normal" fill="#000" stroke="#000" stroke-width="0.15" >-6</text>
<text x="497.4" y="338.68" font-size="10.5" text-anchor="end" font-weight="normal" font-style="normal" fill="#000" stroke="#000" stroke-width="0.15" >-8</text>
<text x="497.4" y="363.3" font-size="10.5" text-anchor="end" font-weight="normal" font-style="normal" fill="#000" stroke="#000" stroke-width="0.15" >-10</text>
<text x="591" y="389.4" font-size="11.75" text-anchor="middle" font-weight="normal" font-style="normal" fill="#000" stroke="#000" stroke-width="0.15" >Frequency (GHz)</text>
<text stroke="#000" stroke-width="0.15" transform="translate(481.2,296.5) rotate(-90)" font-size="11.9" text-anchor="middle">S21 (dB)</text>
<line x1="559.2" y1="224.4" x2="559.2" y2="359.4" stroke="#111" stroke-width="1.2" stroke-dasharray="2.5,1.6"/>
<line x1="559" y1="364" x2="559" y2="367.5" stroke="#fa1e1e" stroke-width="1.8" />
<polygon points="559.00,361.20 561.20,364.80 556.80,364.80" fill="#fa1e1e"/>
<text x="563" y="378.2" font-size="10.8" text-anchor="middle" font-weight="bold" font-style="normal" fill="#fa1e1e" stroke="#fa1e1e" stroke-width="0.3">2.4 GHz</text>
<text x="627" y="234.2" font-size="9.1" text-anchor="start" font-weight="normal" font-style="normal" fill="#000" stroke="#000" stroke-width="0.15" >σ (S/cm)</text>
<line x1="627" y1="242.0" x2="648" y2="242.0" stroke="#000" stroke-width="2" />
<text x="650.4" y="245.3" font-size="9.1" text-anchor="start" font-weight="normal" font-style="normal" fill="#000" stroke="#000" stroke-width="0.15" >100</text>
<line x1="627" y1="253.2" x2="648" y2="253.2" stroke="#e8231f" stroke-width="2" />
<text x="650.4" y="256.5" font-size="9.1" text-anchor="start" font-weight="normal" font-style="normal" fill="#000" stroke="#000" stroke-width="0.15" >1,000</text>
<line x1="627" y1="264.4" x2="648" y2="264.4" stroke="#1f3b8a" stroke-width="2" />
<text x="650.4" y="267.7" font-size="9.1" text-anchor="start" font-weight="normal" font-style="normal" fill="#000" stroke="#000" stroke-width="0.15" >10,000</text>
<line x1="627" y1="275.6" x2="648" y2="275.6" stroke="#2e8b2e" stroke-width="2" />
<text x="650.4" y="278.90000000000003" font-size="9.1" text-anchor="start" font-weight="normal" font-style="normal" fill="#000" stroke="#000" stroke-width="0.15" >30,000</text>
<line x1="627" y1="286.8" x2="648" y2="286.8" stroke="#8a2be2" stroke-width="2" />
<text x="650.4" y="290.1" font-size="9.1" text-anchor="start" font-weight="normal" font-style="normal" fill="#000" stroke="#000" stroke-width="0.15" >PEC</text>
<clipPath id="cf"><rect x="500.9" y="224.9" width="180.6" height="134"/></clipPath>
<g clip-path="url(#cf)">
<polyline points="500.4,267.1 501.8,267.7 503.7,268.6 505.9,269.6 508.0,270.5 509.8,271.4 511.6,272.3 513.4,273.2 515.3,274.0 517.3,274.8 519.4,275.6 521.5,276.3 523.5,277.0 525.3,277.7 527.1,278.3 528.8,278.9 530.6,279.4 532.4,279.9 534.2,280.3 536.1,280.6 538.0,281.0 540.0,281.4 542.1,281.8 544.1,282.1 546.0,282.4 547.7,282.7 549.3,282.9 550.7,283.1 552.0,283.2 553.0,283.0 553.9,282.6 554.6,282.4 555.5,282.6 556.5,283.5 557.5,284.9 558.5,286.5 559.6,288.0 560.7,289.3 561.9,290.6 563.0,291.9 564.2,293.4 565.3,294.9 566.4,296.6 567.5,298.3 568.8,300.3 570.2,302.6 571.7,305.2 573.2,307.8 574.9,310.2 576.7,312.5 578.7,314.8 580.6,316.9 582.6,318.6 584.5,320.0 586.3,321.0 588.2,321.8 590.2,322.5 592.4,323.0 594.8,323.4 597.2,323.6 599.4,323.7 601.5,323.6 603.5,323.2 605.4,322.8 607.1,322.5 608.5,322.2 609.6,322.0 610.7,321.7 612.0,321.5 613.6,321.1 615.3,320.6 617.0,320.3 618.6,320.5 619.9,321.4 620.9,322.7 622.0,324.3 623.4,325.7 625.1,326.9 627.1,328.2 629.2,329.3 631.0,330.4 632.4,331.4 633.7,332.2 635.0,333.1 636.8,333.9 639.2,334.7 641.9,335.4 644.9,336.2 648.2,337.1 651.7,338.1 655.4,339.3 659.4,340.5 663.5,341.9 668.3,343.6 673.7,345.6 678.6,347.5 682.0,348.8" fill="none" stroke="#000" stroke-width="1.9" stroke-linejoin="round" stroke-linecap="round" />
<polyline points="500.4,346.3 501.6,343.6 503.3,339.7 505.2,335.3 507.0,331.0 508.7,326.9 510.5,322.7 512.3,318.6 514.1,314.6 515.9,310.9 517.6,307.3 519.3,303.8 521.1,300.5 522.9,297.3 524.7,294.3 526.5,291.5 528.2,288.8 529.7,286.3 531.1,284.0 532.4,281.9 533.7,280.0 534.9,278.4 536.0,277.0 537.1,275.8 538.3,274.8 539.8,274.0 541.3,273.4 542.9,272.9 544.4,272.5 545.6,272.2 546.7,272.1 547.8,271.9 549.0,271.7 550.4,271.3 551.8,270.8 553.2,270.4 554.4,270.2 555.3,270.3 556.1,270.7 556.7,271.2 557.4,271.7 558.0,272.2 558.6,272.7 559.2,273.3 560.0,274.0 560.9,274.5 562.0,274.9 563.1,275.9 564.2,278.1 565.1,282.8 565.9,289.2 566.8,295.3 568.0,298.7 569.5,298.4 571.2,295.8 573.0,292.3 574.9,289.5 576.8,287.6 578.7,285.8 580.7,284.2 582.6,282.7 584.5,281.3 586.4,280.1 588.3,279.0 590.2,278.1 592.1,277.4 594.1,276.8 596.0,276.4 597.9,276.2 599.8,276.3 601.8,276.6 603.7,277.1 605.5,277.8 607.2,278.6 608.8,279.6 610.3,280.7 611.7,282.0 612.8,283.3 613.7,284.6 614.6,286.3 615.7,288.4 617.0,291.1 618.5,294.3 620.0,297.9 621.5,301.8 623.0,306.3 624.5,311.4 625.9,316.4 627.2,320.9 628.4,325.2 629.4,329.4 630.4,332.8 631.4,334.3 632.3,333.0 633.1,329.5 634.1,325.8 635.8,323.8 638.3,324.0 641.3,325.5 644.7,327.5 648.2,329.5 651.7,331.4 655.5,333.5 659.4,335.7 663.5,338.1 668.3,340.9 673.7,344.0 678.6,346.8 682.0,348.8" fill="none" stroke="#e8221f" stroke-width="1.9" stroke-linejoin="round" stroke-linecap="round" />
<polyline points="519.8,360.5 520.5,357.0 521.5,352.0 522.6,346.2 523.8,340.0 525.0,334.1 526.0,329.0 526.9,324.6 527.7,320.4 528.5,316.5 529.2,312.8 529.9,309.3 530.5,306.0 531.1,302.9 531.6,300.1 532.1,297.4 532.6,294.9 533.0,292.5 533.5,290.0 533.9,287.5 534.3,284.9 534.6,282.4 535.0,280.0 535.4,277.9 536.0,276.0 536.7,274.5 537.6,273.2 538.5,272.2 539.5,271.2 540.4,270.3 541.3,269.4 542.1,268.4 542.9,267.5 543.6,266.6 544.4,265.7 545.1,264.9 545.9,264.0 546.7,263.1 547.4,262.2 548.2,261.3 549.0,260.4 549.7,259.5 550.5,258.7 551.3,257.8 552.1,257.0 552.9,256.1 553.6,255.3 554.4,254.6 555.1,254.1 555.7,253.8 556.3,253.5 556.9,253.4 557.5,253.4 558.1,253.5 558.8,253.8 559.6,254.2 560.4,254.7 561.3,255.3 562.3,256.1 563.2,257.0 564.2,257.9 565.2,259.0 566.2,260.2 567.2,261.5 568.2,262.8 569.3,264.2 570.3,265.6 571.3,267.0 572.3,268.3 573.3,269.7 574.4,271.1 575.4,272.5 576.4,274.0 577.4,275.5 578.5,277.1 579.6,278.7 580.6,280.3 581.7,281.8 582.6,283.2 583.4,284.4 584.2,285.5 584.9,286.6 585.6,287.6 586.4,288.5 587.2,289.5 588.1,290.5 589.1,291.5 590.1,292.5 591.1,293.4 592.2,294.2 593.3,294.9 594.5,295.4 595.7,295.8 597.0,296.1 598.3,296.3 599.6,296.4 600.9,296.4 602.2,296.4 603.5,296.2 604.8,296.0 606.1,295.7 607.4,295.3 608.6,294.9 609.8,294.3 610.9,293.6 612.0,292.9 613.0,292.1 614.1,291.5 615.0,291.0 615.9,290.7 616.6,290.6 617.3,290.6 618.1,290.6 618.8,290.7 619.6,290.9 620.5,291.1 621.4,291.5 622.4,291.9 623.4,292.3 624.3,292.8 625.3,293.4 626.2,294.0 627.1,294.6 628.0,295.3 629.0,296.1 629.9,297.0 631.0,298.0 632.1,299.2 633.4,300.5 634.6,302.0 635.9,303.5 637.3,305.1 638.7,306.8 640.2,308.5 641.7,310.4 643.2,312.4 644.8,314.3 646.5,316.2 648.2,318.0 650.0,319.7 651.9,321.4 653.8,323.1 655.8,324.6 657.8,326.2 659.7,327.6 661.6,328.9 663.6,330.2 665.5,331.4 667.4,332.5 669.3,333.6 671.2,334.7 673.2,335.8 675.3,336.9 677.3,338.0 679.2,339.0 680.8,339.8 682.0,340.4" fill="none" stroke="#1f3a8a" stroke-width="1.9" stroke-linejoin="round" stroke-linecap="round" />
<polyline points="520.5,360.5 521.2,357.0 522.1,352.1 523.2,346.2 524.4,340.1 525.5,334.2 526.5,329.0 527.3,324.5 528.1,320.3 528.9,316.3 529.6,312.4 530.3,308.7 531.0,305.0 531.7,301.4 532.3,297.8 532.9,294.4 533.5,291.1 534.0,287.9 534.5,285.0 534.9,282.3 535.3,279.8 535.6,277.5 536.0,275.3 536.3,273.2 536.8,271.0 537.3,268.8 537.9,266.6 538.5,264.5 539.2,262.4 539.9,260.5 540.6,258.7 541.4,257.1 542.2,255.8 543.1,254.5 544.0,253.3 544.9,252.2 545.9,251.0 546.9,249.8 548.0,248.5 549.1,247.3 550.2,246.1 551.2,245.0 552.1,244.1 552.9,243.4 553.6,242.7 554.2,242.2 554.8,241.8 555.3,241.4 555.9,241.1 556.4,240.8 556.9,240.5 557.4,240.2 557.8,240.0 558.4,240.0 559.0,240.1 559.7,240.4 560.5,240.7 561.4,241.3 562.3,241.9 563.3,242.6 564.2,243.4 565.2,244.3 566.2,245.4 567.3,246.6 568.3,247.8 569.4,249.1 570.3,250.3 571.1,251.5 571.9,252.7 572.6,253.9 573.4,255.2 574.1,256.5 574.9,257.9 575.8,259.4 576.6,261.0 577.6,262.6 578.5,264.3 579.4,266.1 580.3,267.9 581.2,269.8 582.1,271.9 583.0,274.1 583.9,276.2 584.8,278.2 585.6,280.1 586.4,281.9 587.2,283.6 587.9,285.2 588.7,286.8 589.4,288.1 590.2,289.3 591.0,290.2 591.7,291.0 592.5,291.5 593.3,292.0 594.1,292.4 595.0,292.8 595.9,293.2 596.8,293.5 597.8,293.7 598.8,293.9 599.8,294.0 600.9,294.1 602.1,294.1 603.4,294.0 604.7,293.8 606.1,293.6 607.4,293.3 608.6,293.0 609.7,292.6 610.8,292.2 611.9,291.7 612.9,291.2 613.9,290.7 614.8,290.3 615.7,289.9 616.5,289.4 617.2,288.9 618.0,288.5 618.8,288.2 619.6,288.0 620.5,288.0 621.4,288.0 622.4,288.2 623.4,288.5 624.3,288.8 625.3,289.3 626.2,289.8 627.1,290.5 628.0,291.2 629.0,292.0 629.9,293.0 631.0,294.1 632.1,295.4 633.4,296.8 634.6,298.4 635.9,300.1 637.3,301.9 638.7,303.7 640.2,305.6 641.7,307.7 643.2,309.9 644.8,312.1 646.5,314.2 648.2,316.1 650.0,317.9 651.9,319.6 653.8,321.2 655.8,322.8 657.8,324.2 659.7,325.7 661.6,327.1 663.6,328.4 665.5,329.7 667.4,331.0 669.3,332.2 671.2,333.3 673.2,334.4 675.3,335.6 677.3,336.7 679.2,337.7 680.8,338.5 682.0,339.1" fill="none" stroke="#2e9a2e" stroke-width="1.9" stroke-linejoin="round" stroke-linecap="round" />
<polyline points="519.2,360.5 519.9,356.9 521.0,351.9 522.2,346.1 523.5,339.9 524.7,333.9 525.8,328.7 526.7,324.3 527.6,320.2 528.3,316.4 529.1,312.6 529.8,308.9 530.5,305.2 531.2,301.3 531.8,297.4 532.4,293.6 532.9,289.8 533.5,286.3 534.0,283.0 534.5,280.0 535.0,277.3 535.5,274.8 536.0,272.5 536.5,270.2 537.0,268.0 537.5,265.8 538.0,263.8 538.5,261.8 539.0,259.9 539.5,258.1 540.1,256.4 540.7,254.8 541.4,253.3 542.1,251.9 542.8,250.6 543.6,249.3 544.4,248.0 545.3,246.7 546.4,245.5 547.5,244.3 548.6,243.1 549.6,242.1 550.5,241.1 551.3,240.3 552.0,239.5 552.6,238.9 553.2,238.3 553.8,237.8 554.4,237.3 555.1,236.9 555.7,236.5 556.3,236.1 557.0,235.9 557.7,235.9 558.5,236.0 559.4,236.4 560.3,236.9 561.2,237.6 562.2,238.5 563.2,239.4 564.2,240.3 565.2,241.3 566.3,242.4 567.3,243.6 568.4,244.8 569.4,246.0 570.3,247.2 571.2,248.3 571.9,249.4 572.7,250.4 573.4,251.5 574.2,252.7 574.9,254.1 575.7,255.7 576.4,257.4 577.2,259.2 578.0,261.1 578.7,263.0 579.5,264.8 580.3,266.6 581.1,268.4 581.9,270.3 582.7,272.1 583.4,273.8 584.1,275.5 584.7,277.1 585.3,278.6 585.8,280.0 586.3,281.5 586.8,283.0 587.4,284.5 588.1,286.2 588.8,288.0 589.5,289.9 590.3,291.6 591.1,293.2 591.8,294.5 592.5,295.5 593.2,296.2 593.9,296.7 594.6,297.1 595.3,297.5 596.0,297.8 596.7,298.1 597.5,298.4 598.2,298.6 599.0,298.7 599.9,298.7 600.9,298.7 602.0,298.6 603.3,298.5 604.7,298.3 606.0,298.0 607.4,297.7 608.6,297.2 609.8,296.6 610.9,295.8 612.0,294.9 613.0,294.0 614.1,293.2 615.0,292.6 615.9,292.1 616.6,291.7 617.3,291.4 618.1,291.1 618.8,290.9 619.6,290.8 620.5,290.8 621.4,290.8 622.4,290.9 623.4,291.0 624.3,291.3 625.3,291.6 626.2,291.9 627.1,292.3 628.0,292.7 629.0,293.3 629.9,294.1 631.0,295.2 632.2,296.7 633.5,298.5 634.9,300.6 636.3,302.7 637.6,304.8 638.7,306.5 639.6,308.0 640.4,309.2 641.0,310.4 641.6,311.5 642.3,312.6 643.0,313.8 643.7,315.0 644.4,316.1 645.1,317.2 646.0,318.4 647.0,319.6 648.2,320.9 649.8,322.4 651.6,324.0 653.6,325.6 655.6,327.3 657.7,328.9 659.7,330.4 661.6,331.8 663.6,333.2 665.5,334.5 667.4,335.8 669.3,337.0 671.2,338.1 673.2,339.1 675.3,340.1 677.3,341.0 679.2,341.8 680.8,342.4 682.0,342.9" fill="none" stroke="#8f2ee8" stroke-width="1.9" stroke-linejoin="round" stroke-linecap="round" />
</g>
</svg>
</body></html>
